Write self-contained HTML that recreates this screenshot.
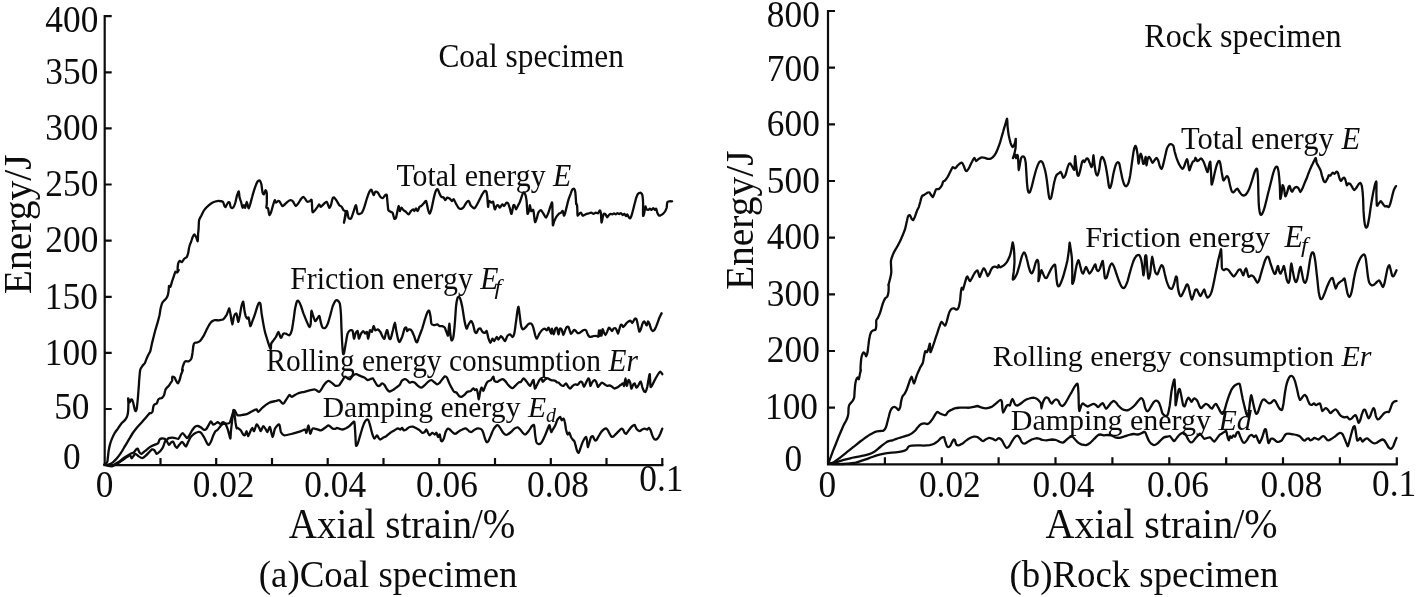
<!DOCTYPE html>
<html><head><meta charset="utf-8"><title>Energy curves</title>
<style>
html,body{margin:0;padding:0;background:#fff;}
body{width:1416px;height:597px;overflow:hidden;font-family:"Liberation Serif",serif;}
svg{display:block;position:absolute;left:0;top:0;will-change:transform;filter:grayscale(1);}
text{font-family:"Liberation Serif",serif;fill:#0c0c0c;}
.axis{stroke:#0c0c0c;stroke-width:2.2;fill:none;stroke-linecap:butt;}
.cv{stroke:#0c0c0c;stroke-width:2.3;fill:none;stroke-linejoin:round;stroke-linecap:round;}
</style></head><body>
<svg width="1416" height="597" viewBox="0 0 1416 597">
<rect width="1416" height="597" fill="#fff"/>

<path class="axis" d="M104.7,15.1 V465.1 H663.4"/>
<path class="axis" d="M104.7,409.0 h7.0 M104.7,352.9 h7.0 M104.7,296.8 h7.0 M104.7,240.7 h7.0 M104.7,184.5 h7.0 M104.7,128.4 h7.0 M104.7,72.3 h7.0 M104.7,16.2 h7.0 M160.5,465.1 v-7.0 M216.2,465.1 v-7.0 M272.0,465.1 v-7.0 M327.7,465.1 v-7.0 M383.5,465.1 v-7.0 M439.3,465.1 v-7.0 M495.0,465.1 v-7.0 M550.8,465.1 v-7.0 M606.5,465.1 v-7.0 M662.3,465.1 v-7.0"/>
<path class="axis" d="M828.0,9.9 V464.3 H1397.9"/>
<path class="axis" d="M828.0,407.6 h7.0 M828.0,351.0 h7.0 M828.0,294.3 h7.0 M828.0,237.7 h7.0 M828.0,181.0 h7.0 M828.0,124.3 h7.0 M828.0,67.7 h7.0 M828.0,11.0 h7.0 M884.9,464.3 v-7.0 M941.8,464.3 v-7.0 M998.6,464.3 v-7.0 M1055.5,464.3 v-7.0 M1112.4,464.3 v-7.0 M1169.3,464.3 v-7.0 M1226.2,464.3 v-7.0 M1283.0,464.3 v-7.0 M1339.9,464.3 v-7.0 M1396.8,464.3 v-7.0"/>
<text transform="translate(71.8,32.4) scale(0.955,1)" font-size="37" text-anchor="middle">400</text>
<text transform="translate(71.8,84.3) scale(0.955,1)" font-size="37" text-anchor="middle">350</text>
<text transform="translate(71.8,140.3) scale(0.955,1)" font-size="37" text-anchor="middle">300</text>
<text transform="translate(71.8,195.6) scale(0.955,1)" font-size="37" text-anchor="middle">250</text>
<text transform="translate(71.8,251.8) scale(0.955,1)" font-size="37" text-anchor="middle">200</text>
<text transform="translate(71.3,309.3) scale(0.955,1)" font-size="37" text-anchor="middle">150</text>
<text transform="translate(71.3,365.0) scale(0.955,1)" font-size="37" text-anchor="middle">100</text>
<text transform="translate(71.8,419.2) scale(0.955,1)" font-size="37" text-anchor="middle">50</text>
<text transform="translate(71.8,469.4) scale(0.955,1)" font-size="37" text-anchor="middle">0</text>
<text transform="translate(793.3,26.8) scale(0.955,1)" font-size="37" text-anchor="middle">800</text>
<text transform="translate(793.3,81.1) scale(0.955,1)" font-size="37" text-anchor="middle">700</text>
<text transform="translate(793.3,136.3) scale(0.955,1)" font-size="37" text-anchor="middle">600</text>
<text transform="translate(793.3,192.6) scale(0.955,1)" font-size="37" text-anchor="middle">500</text>
<text transform="translate(793.3,248.7) scale(0.955,1)" font-size="37" text-anchor="middle">400</text>
<text transform="translate(793.3,305.5) scale(0.955,1)" font-size="37" text-anchor="middle">300</text>
<text transform="translate(793.3,362.4) scale(0.955,1)" font-size="37" text-anchor="middle">200</text>
<text transform="translate(791.5,418.7) scale(0.955,1)" font-size="37" text-anchor="middle">100</text>
<text transform="translate(793.3,470.6) scale(0.955,1)" font-size="37" text-anchor="middle">0</text>
<text transform="translate(104.6,497.0) scale(0.955,1)" font-size="37" text-anchor="middle">0</text>
<text transform="translate(223.6,496.8) scale(0.955,1)" font-size="37" text-anchor="middle">0.02</text>
<text transform="translate(335.2,496.8) scale(0.955,1)" font-size="37" text-anchor="middle">0.04</text>
<text transform="translate(447.0,496.6) scale(0.955,1)" font-size="37" text-anchor="middle">0.06</text>
<text transform="translate(558.0,496.6) scale(0.955,1)" font-size="37" text-anchor="middle">0.08</text>
<text transform="translate(661.3,490.8) scale(0.955,1)" font-size="37" text-anchor="middle">0.1</text>
<text transform="translate(827.4,496.8) scale(0.955,1)" font-size="37" text-anchor="middle">0</text>
<text transform="translate(949.8,496.8) scale(0.955,1)" font-size="37" text-anchor="middle">0.02</text>
<text transform="translate(1063.4,496.8) scale(0.955,1)" font-size="37" text-anchor="middle">0.04</text>
<text transform="translate(1178.0,496.8) scale(0.955,1)" font-size="37" text-anchor="middle">0.06</text>
<text transform="translate(1291.5,496.8) scale(0.955,1)" font-size="37" text-anchor="middle">0.08</text>
<text transform="translate(1394.1,495.8) scale(0.955,1)" font-size="37" text-anchor="middle">0.1</text>
<text transform="translate(30.6,294.3) rotate(-90) scale(0.983,1)" font-size="40.3" text-anchor="start">Energy/J</text>
<text transform="translate(752.6,290.1) rotate(-90) scale(0.966,1)" font-size="40.9" text-anchor="start">Energy/J</text>
<text transform="translate(288.7,538.1) scale(0.946,1)" font-size="41.3" text-anchor="start">Axial strain/%</text>
<text transform="translate(1045.6,538.1) scale(0.968,1)" font-size="41.3" text-anchor="start">Axial strain/%</text>
<text transform="translate(258.8,586.5) scale(0.969,1)" font-size="38" text-anchor="start">(a)Coal specimen</text>
<text transform="translate(1009.5,586.5) scale(0.969,1)" font-size="38" text-anchor="start">(b)Rock specimen</text>
<text transform="translate(438.4,66.7) scale(0.951,1)" font-size="33" text-anchor="start">Coal specimen</text>
<text transform="translate(1144.2,46.5) scale(0.963,1)" font-size="33.4" text-anchor="start">Rock specimen</text>
<text transform="translate(396.4,185.6) scale(0.934,1)" font-size="32" text-anchor="start">Total energy <tspan font-style="italic">E</tspan></text>
<text transform="translate(290.2,288.8) scale(0.939,1)" font-size="31.8" text-anchor="start">Friction energy <tspan font-style="italic">E</tspan></text>
<text transform="translate(494.6,294.0) scale(1.2,1)" font-size="20" text-anchor="start"><tspan font-style="italic">f</tspan></text>
<text transform="translate(266.3,371.2) scale(0.944,1)" font-size="31.2" text-anchor="start">Rolling energy consumption <tspan font-style="italic">Er</tspan></text>
<text transform="translate(322.7,416.7) scale(0.985,1)" font-size="30.1" text-anchor="start">Damping energy <tspan font-style="italic">E</tspan></text>
<text transform="translate(546.0,422.0) scale(1.0,1)" font-size="20" text-anchor="start"><tspan font-style="italic">d</tspan></text>
<text transform="translate(1181.0,149.2) scale(1.004,1)" font-size="30.5" text-anchor="start">Total energy <tspan font-style="italic">E</tspan></text>
<text transform="translate(1085.2,246.9) scale(0.992,1)" font-size="30.5" text-anchor="start">Friction energy</text>
<text transform="translate(1284.4,246.9) scale(0.98,1)" font-size="31" text-anchor="start"><tspan font-style="italic">E</tspan></text>
<text transform="translate(1301.0,252.0) scale(1.2,1)" font-size="20" text-anchor="start"><tspan font-style="italic">f</tspan></text>
<text transform="translate(992.8,365.9) scale(1.0,1)" font-size="30" text-anchor="start">Rolling energy consumption <tspan font-style="italic">Er</tspan></text>
<text transform="translate(1010.8,429.6) scale(1.0,1)" font-size="30" text-anchor="start">Damping energy <tspan font-style="italic">Ed</tspan></text>
<path class="cv" d="M104.7,464.8C104.9,464.7 105.7,464.2 106.0,463.8C106.3,463.4 107.2,462.3 107.4,461.5C107.6,460.7 107.7,458.6 107.9,457.2C108.1,455.8 108.4,452.1 108.7,450.5C109.0,448.9 109.6,445.9 110.0,444.4C110.4,442.9 111.5,439.8 112.1,438.4C112.7,437.0 114.0,434.3 114.7,433.0C115.5,431.7 117.3,429.5 118.1,428.3C118.9,427.1 120.5,424.6 121.4,423.5C122.3,422.4 124.7,420.5 125.4,419.5C126.2,418.5 127.1,416.7 127.4,415.5C127.8,414.3 128.1,411.6 128.2,410.1C128.3,408.6 128.4,404.9 128.4,403.4C128.4,401.9 128.0,398.8 128.1,398.4C128.2,398.0 128.7,399.5 128.9,400.0C129.1,400.5 129.6,402.4 129.8,402.4C130.0,402.4 130.6,400.4 130.8,400.0C131.1,399.6 131.6,399.2 131.8,399.4C132.1,399.6 132.6,400.6 132.8,401.4C133.1,402.1 133.6,404.3 133.8,405.4C134.1,406.4 134.6,409.1 134.8,409.8C135.1,410.5 135.6,411.2 135.8,411.1C136.0,411.0 136.5,409.9 136.7,408.8C136.9,407.7 137.3,404.0 137.5,402.1C137.7,400.2 138.1,395.5 138.2,394.0C138.3,392.5 138.4,391.1 138.5,390.0C138.6,388.9 138.8,386.2 138.9,385.0C139.0,383.8 139.0,381.9 139.2,380.0C139.4,378.1 139.8,371.8 140.2,370.0C140.6,368.2 142.1,366.4 142.7,365.5C143.3,364.6 144.4,363.9 144.9,363.0C145.4,362.0 146.4,359.1 146.9,357.9C147.4,356.8 148.5,354.6 148.9,353.8C149.3,352.9 149.9,352.5 150.3,351.2C150.6,350.0 151.5,345.5 151.9,343.7C152.3,341.9 153.2,338.7 153.6,337.0C154.0,335.3 154.8,332.2 155.3,330.3C155.8,328.4 157.3,323.8 157.8,321.9C158.3,320.0 159.1,316.9 159.5,315.2C159.8,313.6 160.3,310.0 160.6,308.5C161.0,307.1 161.6,304.4 162.0,303.5C162.4,302.6 163.1,301.6 163.7,301.0C164.2,300.4 165.6,299.2 166.2,298.5C166.7,297.7 167.5,296.2 167.8,295.1C168.2,294.1 168.5,291.3 168.7,290.1C168.8,288.9 168.8,286.3 169.0,285.9C169.2,285.5 170.0,287.3 170.4,286.8C170.7,286.2 171.6,283.0 172.0,281.7C172.4,280.5 173.3,278.0 173.7,276.7C174.1,275.4 175.0,272.2 175.4,271.7C175.8,271.2 176.6,272.7 177.1,272.5C177.5,272.3 178.7,270.3 178.7,270.0C178.8,269.7 177.7,270.8 177.6,270.0C177.6,269.2 177.9,265.0 178.1,263.8C178.4,262.7 179.4,261.0 179.8,260.8C180.3,260.6 181.3,262.4 181.8,262.1C182.4,261.9 183.7,259.4 184.3,258.8C185.0,258.1 186.4,257.5 186.9,256.8C187.3,256.0 187.9,254.2 188.2,252.9C188.5,251.6 189.0,247.6 189.4,246.2C189.7,244.9 190.6,243.2 191.0,242.0C191.5,240.9 192.3,237.9 192.7,237.0C193.1,236.1 194.0,234.5 194.4,234.5C194.8,234.5 195.6,236.2 196.1,237.0C196.5,237.8 197.5,241.6 197.7,241.2C198.0,240.8 198.0,235.2 198.1,233.7C198.2,232.1 198.5,230.3 198.6,228.6C198.7,227.0 198.8,221.8 199.1,220.3C199.4,218.7 200.5,217.2 201.1,216.1C201.7,214.9 202.9,212.2 203.6,211.0C204.3,209.9 206.0,207.8 207.0,206.9C207.9,205.9 210.1,204.2 211.1,203.5C212.2,202.8 214.3,201.8 215.3,201.5C216.4,201.2 218.6,200.9 219.5,201.0C220.5,201.0 222.2,201.2 222.9,201.8C223.5,202.5 224.2,205.4 224.5,206.0C224.9,206.6 225.3,207.3 225.7,206.9C226.1,206.4 227.4,203.2 227.9,202.7C228.4,202.1 229.2,202.1 229.6,202.7C229.9,203.2 230.3,206.2 230.7,206.9C231.2,207.5 232.4,208.1 232.9,207.7C233.5,207.3 234.6,205.1 235.1,203.5C235.6,201.9 236.6,196.6 237.1,195.1C237.6,193.6 238.5,191.1 238.8,191.4C239.1,191.8 239.3,196.2 239.6,197.6C239.9,199.0 240.9,201.4 241.3,202.7C241.6,203.9 242.1,207.4 242.5,207.7C242.8,208.0 243.5,205.2 243.8,205.2C244.1,205.2 244.8,208.1 245.1,207.7C245.5,207.3 246.4,201.8 246.8,201.8C247.2,201.9 248.1,207.9 248.5,208.2C248.9,208.5 249.7,205.8 250.2,204.3C250.6,202.9 251.6,198.8 252.2,196.8C252.7,194.8 254.1,190.3 254.7,188.4C255.3,186.6 256.6,183.1 257.2,182.1C257.8,181.1 259.2,180.1 259.7,180.4C260.2,180.7 261.0,182.7 261.4,184.2C261.7,185.8 262.2,191.4 262.6,192.6C262.9,193.9 263.5,194.6 263.9,194.3C264.3,194.0 265.2,190.2 265.6,190.1C265.9,190.0 266.6,191.8 266.8,193.5C266.9,195.1 266.8,201.7 266.8,203.5C266.7,205.3 266.2,207.1 266.4,207.7C266.6,208.3 267.7,207.6 268.1,208.5C268.4,209.4 268.9,214.4 269.3,214.9C269.6,215.4 270.5,213.9 270.9,212.7C271.4,211.5 272.6,206.7 273.1,205.2C273.6,203.6 274.4,200.5 274.8,200.2C275.1,199.8 275.5,202.6 276.0,202.7C276.4,202.8 277.7,201.1 278.1,201.0C278.6,200.9 279.3,201.2 279.8,201.8C280.3,202.5 281.8,205.6 282.3,206.0C282.9,206.4 283.4,205.7 284.0,205.2C284.6,204.7 286.5,202.5 287.4,201.8C288.2,201.2 290.0,200.2 290.7,200.2C291.4,200.2 292.6,201.1 293.2,201.8C293.8,202.6 295.1,205.8 295.7,206.0C296.4,206.2 297.6,204.3 298.2,203.5C298.9,202.7 300.1,200.2 300.8,199.3C301.4,198.5 302.7,196.9 303.3,196.8C303.8,196.7 304.4,197.8 304.9,198.5C305.5,199.1 306.8,201.5 307.5,201.8C308.1,202.1 309.4,201.2 310.0,201.0C310.5,200.8 311.3,198.8 311.6,200.2C312.0,201.5 312.1,210.6 312.5,211.9C312.9,213.1 314.4,210.8 315.0,210.2C315.6,209.6 317.0,207.6 317.5,206.9C318.0,206.1 318.8,204.3 319.2,204.3C319.6,204.3 320.3,206.9 320.9,206.9C321.4,206.9 322.6,205.0 323.4,204.3C324.1,203.7 326.0,201.4 326.7,201.8C327.4,202.2 328.7,207.3 329.2,207.7C329.8,208.1 330.5,206.3 330.9,205.2C331.3,204.0 332.2,199.4 332.6,198.5C333.0,197.5 333.7,197.3 334.3,197.6C334.8,198.0 336.1,200.0 336.8,201.0C337.4,201.9 338.7,204.4 339.3,205.2C339.9,205.9 341.3,206.2 341.8,206.9C342.3,207.5 343.0,209.6 343.5,210.2C343.9,210.8 345.6,210.3 345.6,211.9C345.7,213.4 343.8,222.9 344.0,222.8C344.1,222.7 346.3,211.7 346.8,211.0C347.4,210.4 348.0,216.8 348.5,217.7C349.0,218.7 350.4,219.3 351.0,218.6C351.6,217.8 352.9,213.6 353.5,211.9C354.1,210.2 355.5,205.0 356.0,205.2C356.6,205.4 357.0,212.6 357.7,213.6C358.4,214.5 361.1,213.6 361.9,212.7C362.7,211.9 363.8,208.6 364.4,206.9C365.0,205.1 366.3,200.4 366.9,198.5C367.5,196.6 368.9,192.9 369.4,191.8C370.0,190.7 370.9,189.3 371.4,189.8C372.0,190.2 373.1,194.9 373.6,195.1C374.1,195.4 374.8,192.1 375.3,191.8C375.8,191.5 377.2,192.0 377.8,192.6C378.4,193.2 379.7,196.1 380.3,196.8C380.9,197.5 382.2,198.4 382.8,198.1C383.5,197.9 384.9,195.5 385.3,195.1C385.8,194.7 386.5,194.1 386.8,195.1C387.0,196.2 387.4,201.6 387.6,203.5C387.8,205.4 388.0,209.2 388.4,210.2C388.8,211.2 390.4,211.6 390.9,211.9C391.5,212.2 392.2,211.9 392.6,212.7C393.0,213.6 393.9,217.9 394.3,218.6C394.7,219.2 395.5,218.8 396.0,217.7C396.4,216.7 397.3,211.7 397.6,210.2C398.0,208.7 398.5,205.9 398.8,206.0C399.1,206.1 399.5,210.8 399.8,211.0C400.2,211.2 401.0,207.8 401.5,207.7C402.0,207.6 402.9,209.7 403.5,210.2C404.1,210.7 405.4,211.4 406.0,211.9C406.6,212.4 407.9,214.5 408.5,214.4C409.2,214.3 410.5,211.7 411.0,211.0C411.6,210.4 412.8,209.4 413.2,209.4C413.6,209.4 414.0,211.1 414.4,211.0C414.7,210.9 415.6,208.5 416.1,208.5C416.5,208.5 417.3,211.2 417.7,211.0C418.2,210.8 419.0,207.5 419.4,206.9C419.8,206.2 420.6,206.4 421.1,206.0C421.6,205.6 423.0,204.1 423.6,203.5C424.2,202.9 425.6,200.4 426.1,201.0C426.6,201.6 427.4,207.0 427.8,208.5C428.2,210.1 429.0,213.3 429.5,213.6C429.9,213.8 430.7,211.6 431.1,210.2C431.6,208.8 432.4,204.5 432.8,202.7C433.2,200.8 434.1,196.7 434.5,195.1C434.9,193.6 435.7,190.8 436.2,190.1C436.6,189.4 437.4,188.8 437.8,189.3C438.3,189.7 439.1,192.5 439.5,193.5C439.9,194.4 440.7,196.3 441.2,196.8C441.7,197.3 443.2,197.2 443.7,197.6C444.2,198.1 445.0,200.2 445.4,200.2C445.8,200.2 446.5,197.8 447.1,197.6C447.6,197.4 448.9,198.1 449.6,198.5C450.2,198.9 451.6,200.9 452.1,201.0C452.6,201.1 453.2,198.9 453.8,199.3C454.3,199.7 455.6,203.2 456.3,204.3C456.9,205.4 458.1,207.6 458.8,208.2C459.4,208.8 460.7,209.0 461.3,208.9C461.9,208.7 463.2,207.6 463.8,206.9C464.4,206.1 465.7,203.4 466.3,202.7C466.9,201.9 468.3,200.7 468.8,201.0C469.4,201.3 470.0,204.3 470.5,205.2C471.0,206.0 472.5,207.3 473.0,207.7C473.5,208.1 474.2,208.6 474.7,208.2C475.2,207.8 476.6,205.4 477.2,204.3C477.8,203.2 479.1,200.6 479.7,199.3C480.3,198.1 481.6,195.3 482.2,194.3C482.9,193.2 484.2,191.3 484.7,190.9C485.3,190.6 486.1,191.0 486.4,191.8C486.7,192.5 487.0,194.9 487.3,196.8C487.5,198.7 487.9,206.3 488.1,206.9C488.3,207.4 488.5,201.5 488.9,201.0C489.3,200.5 490.9,202.6 491.4,202.7C492.0,202.8 492.7,201.0 493.1,201.8C493.5,202.7 494.4,208.8 494.8,209.4C495.2,209.9 496.0,206.5 496.5,206.0C496.9,205.5 497.7,205.0 498.1,205.2C498.6,205.4 499.3,207.8 499.8,207.7C500.3,207.6 501.8,204.5 502.3,204.3C502.9,204.1 503.5,206.2 504.0,206.0C504.5,205.8 506.0,203.0 506.5,202.7C507.0,202.3 507.8,202.8 508.2,203.5C508.6,204.2 509.4,207.2 509.9,208.5C510.3,209.8 511.1,214.2 511.5,213.9C512.0,213.6 512.9,207.1 513.2,206.0C513.6,204.9 514.0,204.8 514.4,205.2C514.7,205.6 515.6,209.4 516.1,209.4C516.5,209.4 517.8,206.1 518.2,205.2C518.7,204.2 519.5,202.9 519.9,201.8C520.3,200.8 521.2,198.0 521.6,196.8C522.0,195.6 522.8,193.0 523.3,192.6C523.7,192.2 524.5,192.4 524.9,193.5C525.4,194.5 526.3,198.5 526.6,201.0C526.9,203.5 527.1,212.4 527.5,213.6C527.8,214.7 528.8,211.2 529.1,210.2C529.4,209.2 529.7,205.1 530.0,205.2C530.2,205.3 530.7,210.4 531.1,211.0C531.6,211.7 532.8,208.8 533.3,210.2C533.8,211.6 534.6,220.9 535.0,221.9C535.4,223.0 536.2,219.7 536.7,218.6C537.1,217.4 537.8,213.8 538.3,212.7C538.9,211.7 540.2,210.1 540.9,210.2C541.5,210.3 542.7,212.6 543.4,213.6C544.0,214.5 545.3,217.8 545.9,217.7C546.5,217.6 547.8,214.2 548.4,212.7C549.0,211.2 550.1,207.3 550.6,206.0C551.1,204.8 552.0,201.3 552.2,202.7C552.5,204.0 552.5,214.1 552.6,216.9C552.7,219.7 552.7,224.7 552.9,225.3C553.1,225.8 553.8,222.3 554.2,221.3C554.7,220.2 555.9,217.6 556.5,216.7C557.1,215.8 558.2,214.3 558.8,213.8C559.4,213.4 560.6,213.1 561.1,212.7C561.6,212.4 562.4,210.6 562.8,211.0C563.1,211.4 563.6,215.3 563.9,215.6C564.2,215.8 564.7,214.4 565.1,213.3C565.4,212.1 566.3,208.2 566.8,206.4C567.2,204.7 568.0,201.2 568.5,199.6C569.0,198.0 570.3,194.6 570.8,193.3C571.2,192.1 572.0,189.9 572.5,189.4C572.9,188.8 573.8,188.4 574.2,188.8C574.5,189.1 575.1,190.9 575.3,192.2C575.5,193.6 575.8,198.1 575.9,199.6C576.0,201.1 576.1,203.5 576.2,204.2C576.4,204.8 576.9,203.9 577.0,204.7C577.2,205.6 577.3,209.6 577.4,211.0C577.4,212.4 577.3,215.2 577.6,215.6C577.8,215.9 578.9,214.2 579.3,213.8C579.7,213.5 580.6,212.5 581.0,212.7C581.4,212.9 582.3,215.3 582.7,215.6C583.1,215.8 583.9,215.2 584.4,215.0C584.9,214.8 586.1,214.1 586.7,213.8C587.3,213.6 588.4,213.4 589.0,213.3C589.5,213.1 590.7,212.6 591.3,212.7C591.8,212.8 593.0,213.8 593.5,213.8C594.1,213.8 595.2,212.8 595.8,212.7C596.4,212.6 597.6,213.6 598.1,213.3C598.6,213.0 599.4,210.4 599.8,210.4C600.2,210.4 600.7,211.8 600.9,213.3C601.1,214.8 601.3,221.8 601.5,222.4C601.7,223.0 602.4,218.9 602.6,217.8C602.9,216.8 603.4,214.3 603.8,213.8C604.1,213.4 605.1,214.0 605.5,214.4C605.9,214.8 606.8,217.2 607.2,217.3C607.6,217.3 608.5,215.4 608.9,215.0C609.3,214.6 610.2,213.9 610.6,213.8C611.0,213.8 611.9,214.5 612.3,214.4C612.8,214.3 613.6,213.3 614.0,213.3C614.5,213.3 615.3,214.4 615.7,214.4C616.2,214.4 617.0,213.1 617.4,213.1C617.9,213.0 618.7,214.2 619.2,214.2C619.6,214.2 620.4,213.0 620.9,213.1C621.3,213.2 622.1,214.9 622.6,215.0C623.0,215.1 623.9,213.7 624.3,213.8C624.7,214.0 625.6,216.1 626.0,216.1C626.3,216.2 626.8,214.3 627.1,214.4C627.5,214.6 628.5,216.8 628.8,217.3C629.2,217.8 629.7,218.5 630.0,218.4C630.3,218.3 630.8,217.6 631.1,216.7C631.5,215.8 632.4,212.6 632.8,211.0C633.3,209.4 634.1,205.8 634.5,204.2C635.0,202.5 635.8,199.2 636.2,197.9C636.7,196.6 637.5,194.6 637.9,193.9C638.4,193.3 639.2,192.9 639.7,192.8C640.1,192.7 641.0,193.0 641.4,193.3C641.7,193.7 642.3,194.4 642.5,195.6C642.7,196.8 643.0,200.5 643.1,203.0C643.1,205.5 642.9,214.3 643.1,215.6C643.2,216.8 643.9,214.4 644.2,213.3C644.5,212.1 645.1,206.9 645.4,206.4C645.6,205.9 646.1,208.9 646.5,209.3C646.8,209.7 647.8,209.9 648.2,209.9C648.6,209.8 649.5,208.7 649.9,208.7C650.3,208.7 651.2,209.9 651.6,209.9C652.0,209.8 652.9,208.2 653.3,208.2C653.8,208.2 654.7,209.8 655.0,209.9C655.4,209.9 655.9,208.4 656.2,208.7C656.5,209.1 657.0,211.9 657.3,212.7C657.7,213.6 658.6,215.2 659.0,215.6C659.4,215.9 660.2,215.5 660.7,215.3C661.2,215.1 662.4,214.4 663.0,213.8C663.6,213.3 664.8,211.8 665.3,211.0C665.7,210.2 666.4,208.4 666.7,207.6C666.9,206.7 666.9,204.9 667.0,204.2C667.1,203.5 667.3,202.2 667.6,201.9C667.8,201.5 668.7,201.4 669.3,201.3C669.8,201.2 671.8,201.3 672.1,201.3"/>
<path class="cv" d="M104.7,464.8C105.0,464.8 106.8,465.0 107.5,464.9C108.2,464.8 109.3,464.3 110.0,464.0C110.7,463.7 111.9,463.2 112.7,462.5C113.5,461.8 115.7,459.7 116.7,458.5C117.7,457.3 119.8,454.6 120.8,453.1C121.8,451.6 123.8,448.1 124.8,446.4C125.8,444.7 127.8,441.4 128.8,439.7C129.8,438.0 131.8,434.5 132.8,433.0C133.8,431.5 136.0,428.7 136.8,427.7C137.6,426.7 138.6,425.8 139.5,424.8C140.4,423.8 143.1,420.8 144.2,419.5C145.3,418.2 147.5,415.6 148.2,414.8C148.9,414.0 149.5,413.3 149.9,413.1C150.3,412.9 150.9,413.3 151.2,413.1C151.5,412.9 152.3,412.1 152.6,411.4C152.8,410.7 153.0,408.2 153.2,407.4C153.4,406.6 153.7,405.5 153.9,405.1C154.2,404.7 154.9,404.3 155.2,404.1C155.5,403.9 156.3,404.0 156.6,403.7C156.9,403.4 157.4,401.9 157.6,401.4C157.8,400.9 158.0,399.8 158.3,399.4C158.6,399.0 159.5,398.6 159.9,398.4C160.3,398.2 161.4,398.4 161.9,398.0C162.4,397.6 163.7,396.0 164.1,395.1C164.5,394.2 164.9,391.4 165.2,390.6C165.4,389.7 165.9,388.9 166.4,388.3C166.8,387.7 168.1,386.7 168.6,386.0C169.2,385.4 170.2,383.7 170.6,383.0C171.0,382.4 171.9,381.5 172.1,380.8C172.3,380.0 172.1,377.1 172.4,376.7C172.7,376.3 174.1,377.0 174.5,377.5C175.0,378.1 175.8,380.2 176.2,380.9C176.6,381.6 177.5,383.5 177.9,383.4C178.3,383.3 179.1,381.2 179.6,380.1C180.0,378.9 180.8,375.4 181.2,374.2C181.7,372.9 182.8,370.5 182.9,370.0C183.0,369.5 182.0,370.8 182.1,370.0C182.2,369.2 183.3,364.9 183.8,363.8C184.2,362.7 184.8,361.6 185.4,361.3C186.1,361.0 188.0,361.6 188.8,361.3C189.5,361.0 190.8,359.8 191.3,358.8C191.8,357.7 192.2,354.6 192.5,352.9C192.7,351.2 193.2,346.6 193.5,345.4C193.7,344.1 194.2,343.2 194.6,342.9C195.1,342.5 196.4,342.8 197.2,342.5C197.9,342.2 199.7,341.3 200.5,340.4C201.3,339.5 203.0,336.8 203.9,335.3C204.7,333.9 206.4,330.2 207.2,328.6C208.0,327.1 209.7,323.8 210.6,322.8C211.4,321.7 212.9,320.6 213.9,320.3C214.9,319.9 217.8,320.4 218.9,320.3C220.1,320.1 222.2,320.0 223.1,319.4C224.1,318.8 225.8,316.3 226.5,315.2C227.1,314.2 227.8,311.9 228.1,311.0C228.5,310.2 229.0,308.0 229.3,308.5C229.6,309.0 230.3,313.2 230.7,315.2C231.0,317.2 231.9,324.3 232.3,324.4C232.7,324.5 233.5,317.4 234.0,316.1C234.5,314.7 236.0,312.8 236.5,313.6C237.0,314.3 237.8,321.7 238.2,321.9C238.6,322.1 239.4,317.2 239.9,315.2C240.3,313.2 241.1,307.7 241.5,306.0C242.0,304.3 242.9,301.3 243.2,301.8C243.6,302.3 244.1,308.4 244.4,310.2C244.7,312.0 245.4,315.0 245.7,316.1C246.1,317.1 247.0,318.4 247.4,318.6C247.8,318.8 248.4,316.8 248.7,317.7C249.1,318.7 249.8,325.7 250.3,326.1C250.7,326.5 251.8,322.6 252.4,321.1C253.0,319.6 254.3,316.3 254.9,314.4C255.6,312.5 256.9,307.5 257.5,306.0C258.0,304.5 258.8,302.9 259.1,302.7C259.5,302.5 260.2,303.0 260.5,304.3C260.8,305.7 261.3,311.1 261.6,313.6C262.0,316.0 262.9,321.3 263.3,323.6C263.7,325.9 264.5,329.9 265.0,332.0C265.5,334.1 266.9,338.4 267.5,340.4C268.1,342.3 269.6,346.8 270.0,347.9C270.4,348.9 270.7,349.3 270.9,348.7C271.0,348.2 270.9,344.7 271.2,343.7C271.5,342.7 272.8,341.2 273.4,340.4C274.0,339.5 275.3,338.0 275.9,337.0C276.5,336.0 277.9,332.1 278.4,332.0C278.9,331.9 279.7,335.4 280.1,336.2C280.4,336.9 280.8,338.2 281.2,337.8C281.7,337.5 282.8,334.2 283.4,333.7C284.0,333.1 285.2,333.4 285.9,333.7C286.7,333.9 288.5,335.7 289.3,335.3C290.0,334.9 291.3,332.2 291.8,330.3C292.3,328.4 293.0,323.0 293.5,320.3C293.9,317.5 294.7,310.8 295.1,308.5C295.6,306.2 296.4,302.8 296.8,301.8C297.2,300.9 298.0,300.5 298.5,301.0C299.0,301.5 300.4,304.4 301.0,306.0C301.6,307.6 302.8,311.6 303.5,313.6C304.3,315.5 306.1,320.3 306.9,321.9C307.6,323.6 308.9,326.7 309.4,327.0C309.9,327.2 310.5,325.6 310.7,323.6C311.0,321.6 311.1,312.2 311.4,311.0C311.6,309.9 312.2,313.1 312.7,314.4C313.2,315.6 314.6,320.7 315.2,321.1C315.9,321.5 317.2,318.4 317.8,317.7C318.3,317.1 319.0,315.3 319.4,316.1C319.8,316.8 320.7,322.1 321.1,323.6C321.5,325.1 322.3,327.3 322.8,327.8C323.3,328.3 324.7,328.3 325.3,327.8C325.9,327.3 327.2,325.2 327.8,323.6C328.4,322.0 329.7,317.4 330.3,315.2C330.9,313.0 332.2,307.8 332.8,306.0C333.5,304.2 334.7,301.7 335.3,301.0C335.9,300.3 337.0,300.1 337.6,300.4C338.1,300.7 339.3,301.8 339.8,303.5C340.2,305.1 340.7,310.6 340.9,313.5C341.1,316.4 341.3,323.3 341.4,326.9C341.6,330.5 341.9,338.6 342.1,342.0C342.3,345.3 342.8,352.4 343.1,353.7C343.4,355.0 343.9,353.5 344.3,352.0C344.6,350.6 345.5,344.3 346.0,342.0C346.4,339.7 347.1,335.1 347.6,333.6C348.2,332.1 349.5,330.6 350.2,330.3C350.8,329.9 352.2,330.0 352.7,331.1C353.1,332.1 353.6,338.3 354.0,338.6C354.4,338.9 355.1,334.5 355.5,333.6C356.0,332.7 357.3,330.5 357.7,331.1C358.1,331.7 358.4,338.3 358.9,338.6C359.3,338.9 360.5,334.5 361.0,333.6C361.6,332.7 362.7,331.1 363.2,331.1C363.7,331.1 364.8,333.5 365.2,333.6C365.7,333.7 366.5,331.3 366.9,331.9C367.3,332.6 367.9,338.8 368.2,338.6C368.6,338.4 369.5,331.1 369.9,330.3C370.4,329.4 371.5,332.4 371.9,331.9C372.4,331.4 373.2,326.3 373.6,326.1C374.0,325.9 374.8,329.8 375.3,330.3C375.8,330.7 377.2,329.2 377.8,329.4C378.4,329.6 379.7,331.0 380.3,331.9C380.9,332.9 382.3,336.1 382.8,337.0C383.3,337.8 384.1,339.3 384.5,338.6C384.9,338.0 385.8,333.0 386.2,331.9C386.5,330.9 387.0,329.5 387.3,330.3C387.7,331.0 388.6,336.7 389.0,337.8C389.4,338.8 390.2,339.6 390.7,338.6C391.2,337.7 392.3,332.2 392.9,330.3C393.4,328.3 394.5,322.7 394.9,322.7C395.3,322.7 395.8,328.3 396.2,330.3C396.6,332.2 397.5,337.2 397.9,338.6C398.3,340.1 399.0,342.2 399.6,342.0C400.1,341.8 401.4,338.6 402.1,337.0C402.7,335.3 404.1,329.7 404.6,328.6C405.1,327.4 406.0,327.4 406.3,327.7C406.6,328.1 406.8,330.9 407.1,331.1C407.4,331.3 408.3,329.5 408.8,329.4C409.3,329.3 410.7,329.5 411.3,330.3C411.9,331.0 413.2,333.9 413.8,335.3C414.4,336.6 415.4,340.3 415.8,341.1C416.2,342.0 416.7,342.7 417.2,342.0C417.6,341.2 419.0,337.0 419.7,335.3C420.3,333.6 421.5,330.5 422.2,328.6C422.8,326.7 424.1,322.2 424.7,320.2C425.3,318.2 426.6,313.9 427.2,312.7C427.8,311.5 428.8,310.1 429.2,310.7C429.6,311.2 430.3,315.2 430.6,316.9C430.8,318.5 431.0,322.5 431.4,323.6C431.8,324.6 433.2,325.1 433.9,325.2C434.6,325.3 436.5,324.3 437.3,324.4C438.0,324.5 439.1,325.9 439.8,326.1C440.4,326.3 441.6,325.9 442.3,326.1C442.9,326.3 444.2,326.8 444.8,327.7C445.4,328.7 446.5,332.7 447.0,333.6C447.4,334.5 447.8,336.5 448.1,335.3C448.4,334.0 449.0,323.8 449.3,323.6C449.6,323.3 450.0,331.5 450.3,333.6C450.6,335.7 451.1,339.8 451.5,340.3C451.8,340.8 452.7,339.9 453.2,337.8C453.6,335.7 454.5,327.4 454.8,323.6C455.2,319.7 455.7,309.9 456.0,306.8C456.3,303.7 457.0,299.7 457.4,298.4C457.7,297.2 458.6,296.5 459.0,296.8C459.4,297.0 460.3,298.7 460.7,300.1C461.1,301.5 461.9,305.1 462.4,307.6C462.8,310.2 463.9,317.6 464.4,320.2C464.9,322.8 466.1,327.9 466.6,328.6C467.0,329.2 467.7,326.2 468.2,325.2C468.8,324.3 470.2,321.2 470.8,321.0C471.3,320.8 472.2,322.2 472.8,323.6C473.3,324.9 474.5,330.8 474.9,331.9C475.4,333.1 476.2,333.1 476.6,332.8C477.0,332.4 477.8,329.9 478.3,329.4C478.8,328.9 479.9,328.3 480.5,328.6C481.0,328.9 481.9,331.4 482.5,331.9C483.0,332.4 484.5,332.9 485.0,332.8C485.5,332.7 486.2,330.5 486.7,331.1C487.1,331.7 487.9,336.3 488.3,337.8C488.8,339.3 490.0,342.7 490.5,342.8C491.0,342.9 492.1,338.8 492.5,338.6C493.0,338.4 493.7,341.3 494.2,341.1C494.7,340.9 496.2,337.2 496.7,337.0C497.2,336.7 497.9,339.6 498.4,339.5C498.9,339.4 500.4,336.3 500.9,336.1C501.4,335.9 502.1,337.2 502.6,337.8C503.1,338.4 504.5,341.3 505.1,341.1C505.7,340.9 506.6,337.0 507.3,336.1C507.9,335.3 509.4,334.3 510.1,334.4C510.8,334.5 512.1,337.1 512.6,337.0C513.2,336.8 513.9,335.5 514.3,333.6C514.7,331.7 515.6,324.6 516.0,321.9C516.4,319.2 517.0,313.7 517.3,311.8C517.6,309.9 518.2,306.4 518.5,306.8C518.8,307.2 519.4,312.9 519.7,315.2C520.0,317.5 520.6,323.4 521.0,325.2C521.4,327.0 522.4,329.2 523.0,329.4C523.6,329.6 525.3,327.6 526.0,326.9C526.7,326.2 527.9,324.3 528.5,323.9C529.2,323.5 530.5,323.2 531.1,323.6C531.6,323.9 532.5,325.4 533.1,326.9C533.6,328.4 534.8,333.8 535.2,335.3C535.7,336.7 536.4,338.8 536.9,338.6C537.4,338.4 538.8,334.6 539.4,333.6C540.1,332.6 541.3,330.9 541.9,330.3C542.6,329.6 543.8,328.6 544.5,328.6C545.1,328.6 546.4,330.4 547.0,330.3C547.5,330.1 548.1,327.3 548.6,327.7C549.2,328.2 550.7,333.5 551.2,333.6C551.6,333.7 551.7,328.5 552.0,328.6C552.3,328.7 553.2,334.4 553.7,334.4C554.1,334.4 554.9,329.4 555.3,328.6C555.8,327.8 556.7,327.4 557.1,328.2C557.5,328.9 558.1,334.3 558.5,334.4C558.8,334.5 559.5,329.4 559.9,328.7C560.3,328.1 561.2,328.5 561.6,329.3C562.1,330.1 562.9,334.8 563.3,335.0C563.8,335.1 564.6,331.4 565.1,330.4C565.5,329.4 566.3,327.4 566.8,327.0C567.2,326.6 568.1,326.5 568.5,327.0C568.9,327.5 569.5,330.1 569.8,331.0C570.2,331.9 570.7,333.7 571.0,333.8C571.3,334.0 572.1,332.6 572.5,332.1C572.9,331.6 573.7,330.0 574.2,329.9C574.6,329.7 575.4,330.6 575.9,331.0C576.3,331.4 577.1,332.8 577.6,333.1C578.1,333.3 579.3,333.0 579.9,332.7C580.4,332.5 581.6,331.4 582.1,331.0C582.7,330.6 583.9,329.9 584.4,329.9C584.9,329.8 585.8,330.0 586.1,330.4C586.5,330.9 587.0,332.6 587.3,333.3C587.6,333.9 588.0,335.1 588.4,335.6C588.8,336.0 589.6,336.8 590.1,336.9C590.6,337.0 591.8,336.6 592.4,336.5C593.0,336.3 594.1,335.8 594.7,335.8C595.2,335.7 596.5,336.0 596.9,336.1C597.4,336.2 598.1,337.2 598.3,336.5C598.6,335.8 598.8,330.5 599.0,330.4C599.2,330.4 599.6,336.1 599.8,336.1C600.0,336.1 600.4,330.5 600.6,330.4C600.8,330.4 601.2,335.7 601.5,335.6C601.8,335.4 602.4,329.7 602.6,329.3C602.9,328.9 603.4,331.4 603.8,332.1C604.1,332.9 605.1,335.1 605.5,335.0C605.9,334.9 606.8,332.5 607.2,331.6C607.6,330.6 608.5,327.9 608.9,327.6C609.3,327.3 610.2,328.9 610.6,329.3C611.0,329.7 611.6,331.1 612.0,331.0C612.3,330.9 613.1,329.1 613.5,328.7C613.9,328.4 614.8,328.0 615.2,328.2C615.6,328.3 616.2,329.2 616.5,329.9C616.9,330.6 617.7,333.8 618.0,333.8C618.3,333.8 618.8,331.0 619.2,329.9C619.5,328.7 620.5,325.3 620.9,324.7C621.2,324.2 621.9,325.0 622.2,325.3C622.5,325.6 622.8,327.0 623.1,327.0C623.5,327.0 624.4,325.8 624.9,325.3C625.3,324.8 626.1,323.5 626.6,323.0C627.1,322.5 628.3,321.6 628.8,321.3C629.3,321.0 630.1,320.5 630.5,320.8C631.0,321.0 631.9,323.0 632.3,323.0C632.6,323.0 633.3,321.3 633.6,320.8C634.0,320.2 634.7,318.6 635.1,318.5C635.5,318.3 636.2,318.8 636.6,319.6C636.9,320.5 637.6,323.8 637.9,325.3C638.3,326.8 639.0,331.1 639.3,331.6C639.7,332.1 640.4,330.3 640.8,329.3C641.2,328.3 642.1,324.6 642.5,323.6C642.9,322.6 643.8,321.2 644.2,321.3C644.6,321.4 645.6,323.7 645.9,324.2C646.2,324.7 646.5,325.7 646.8,325.3C647.1,325.0 647.9,321.5 648.2,321.3C648.5,321.2 649.2,323.2 649.6,324.2C649.9,325.1 650.6,327.9 651.0,328.7C651.4,329.6 652.3,330.9 652.8,331.0C653.2,331.1 654.0,330.4 654.5,329.9C654.9,329.3 655.7,327.4 656.2,326.4C656.6,325.4 657.5,323.0 657.9,321.9C658.3,320.8 659.1,318.4 659.6,317.3C660.1,316.3 661.4,313.8 661.6,313.3"/>
<path class="cv" d="M104.5,464.5C105.5,464.7 110.2,466.6 112.1,466.3C114.0,466.0 117.7,463.4 119.6,462.2C121.5,461.0 125.8,457.8 127.1,456.9C128.5,456.1 129.6,455.2 130.2,455.4C130.7,455.6 131.2,458.4 131.7,458.4C132.1,458.4 133.5,456.0 133.9,455.4C134.4,454.8 134.9,453.8 135.4,453.9C136.0,454.0 137.6,455.6 138.5,456.2C139.3,456.7 141.4,458.1 142.2,458.1C143.1,458.1 144.4,456.9 145.2,456.2C146.1,455.5 148.2,453.2 149.0,452.4C149.9,451.5 151.4,449.7 152.0,449.4C152.7,449.1 153.7,449.6 154.3,450.1C154.9,450.7 156.0,453.6 156.6,453.9C157.1,454.2 158.3,452.9 158.8,452.4C159.4,451.9 160.5,450.9 161.1,450.1C161.7,449.4 162.8,447.5 163.3,446.4C163.9,445.2 164.7,441.7 165.2,441.1C165.6,440.5 166.6,441.4 167.1,441.8C167.6,442.3 168.6,444.8 169.1,444.9C169.6,445.0 170.4,443.0 170.9,442.6C171.4,442.2 172.6,441.4 173.2,441.8C173.7,442.3 174.9,445.6 175.4,446.4C175.9,447.1 176.5,448.1 176.9,447.9C177.4,447.7 178.5,445.6 179.2,444.9C179.8,444.1 181.5,441.8 182.2,441.8C182.9,441.8 184.0,444.3 184.5,444.9C184.9,445.4 185.5,446.7 186.0,446.4C186.4,446.0 187.7,443.0 188.2,441.8C188.8,440.7 189.8,438.3 190.5,437.3C191.2,436.4 192.6,435.0 193.5,434.3C194.5,433.6 197.1,432.2 198.0,432.0C199.0,431.8 200.3,432.1 201.1,432.8C201.8,433.5 203.3,436.0 204.1,437.3C204.8,438.6 206.5,442.4 207.1,443.3C207.7,444.3 208.4,445.0 208.9,444.9C209.4,444.7 210.3,443.0 210.9,441.8C211.4,440.7 212.6,437.1 213.1,435.8C213.7,434.5 214.8,432.0 215.4,431.3C216.0,430.5 217.1,430.4 217.6,429.8C218.2,429.2 219.6,427.2 220.2,426.5C220.8,425.8 221.8,424.6 222.4,424.2C223.1,423.9 224.4,423.9 225.3,423.6C226.2,423.4 228.8,424.2 229.8,422.5C230.9,420.8 233.1,411.1 234.0,410.2C234.9,409.3 236.3,414.6 237.4,415.2C238.4,415.8 241.1,415.1 242.4,414.9C243.6,414.7 245.9,414.5 247.4,413.9C248.9,413.3 253.0,410.8 254.1,410.2C255.3,409.6 256.1,409.2 256.6,409.4C257.1,409.6 257.6,412.1 258.3,411.9C259.0,411.7 261.1,408.8 262.5,407.7C263.8,406.5 267.5,403.5 269.2,402.7C270.9,401.8 274.6,401.3 275.9,401.0C277.1,400.7 278.4,399.8 279.2,400.2C280.1,400.5 282.0,403.2 282.6,403.5C283.2,403.8 283.4,403.7 284.3,402.7C285.1,401.6 288.3,395.9 289.3,395.1C290.2,394.4 290.7,397.0 291.8,396.8C292.8,396.6 296.1,394.1 297.7,393.5C299.2,392.8 302.3,392.3 304.4,391.8C306.4,391.3 312.5,389.3 314.4,389.3C316.3,389.3 318.2,392.4 319.4,391.8C320.7,391.1 323.3,385.6 324.5,384.2C325.6,382.9 327.4,380.8 328.6,380.9C329.9,381.0 333.6,384.4 334.5,385.1C335.4,385.7 335.3,385.9 335.9,385.9C336.5,385.9 338.4,385.8 339.3,385.1C340.1,384.4 341.9,381.1 342.6,380.1C343.3,379.0 344.5,376.9 345.1,376.7C345.8,376.5 347.0,378.1 347.6,378.4C348.3,378.7 349.5,379.6 350.2,379.2C350.8,378.9 351.9,376.5 352.7,375.9C353.4,375.3 355.1,374.2 356.0,374.2C357.0,374.2 359.2,375.5 360.2,375.9C361.2,376.3 363.4,377.0 364.4,377.6C365.3,378.1 367.0,379.9 367.7,380.1C368.5,380.3 369.6,379.4 370.3,379.2C370.9,379.0 372.2,378.2 372.8,378.4C373.3,378.6 373.9,380.1 374.4,380.9C375.0,381.8 376.3,384.5 377.0,385.1C377.6,385.7 378.8,386.1 379.5,385.9C380.1,385.7 381.3,383.5 382.0,383.4C382.6,383.3 383.9,384.4 384.5,385.1C385.1,385.8 386.4,388.5 387.0,389.3C387.6,390.1 388.8,391.4 389.5,391.5C390.2,391.6 392.0,390.6 392.9,390.1C393.7,389.6 395.4,388.2 396.2,387.6C397.1,387.0 398.9,385.9 399.6,385.1C400.3,384.3 401.1,381.6 401.7,380.9C402.4,380.2 403.9,379.3 404.6,379.2C405.3,379.1 406.5,379.7 407.1,380.1C407.7,380.5 409.0,382.4 409.6,382.6C410.2,382.8 411.5,381.8 412.1,381.8C412.8,381.8 413.9,382.1 414.6,382.6C415.4,383.1 417.2,385.3 418.0,385.9C418.8,386.6 420.5,387.7 421.3,387.6C422.2,387.5 423.9,385.8 424.7,385.1C425.5,384.4 427.2,382.4 428.0,381.8C428.9,381.1 430.6,380.0 431.4,380.1C432.2,380.2 434.0,382.1 434.7,382.6C435.5,383.1 436.6,384.3 437.3,384.3C437.9,384.3 439.1,383.2 439.8,382.6C440.4,382.0 441.6,380.0 442.3,379.2C442.9,378.5 444.2,376.6 444.8,376.4C445.4,376.2 446.4,376.8 447.0,377.6C447.5,378.3 448.4,381.3 449.0,382.6C449.5,383.8 450.9,386.5 451.5,387.6C452.1,388.8 453.4,391.2 454.0,391.8C454.6,392.4 455.9,392.1 456.5,392.6C457.1,393.2 458.4,395.5 459.0,396.0C459.7,396.5 460.9,396.9 461.5,396.8C462.2,396.7 463.3,395.8 464.1,395.2C464.8,394.5 466.6,392.3 467.4,391.8C468.2,391.3 470.0,391.4 470.8,391.0C471.5,390.5 472.7,388.6 473.3,388.5C473.8,388.3 474.5,390.0 474.9,390.1C475.4,390.2 476.3,388.9 476.6,389.3C477.0,389.7 477.5,392.2 477.8,393.5C478.1,394.7 478.5,399.4 478.8,399.3C479.1,399.2 479.6,394.1 480.0,392.6C480.3,391.2 481.2,387.8 481.6,387.6C482.1,387.4 482.9,391.1 483.3,391.0C483.7,390.9 484.5,387.9 485.0,386.8C485.5,385.6 486.8,382.6 487.5,381.8C488.2,380.9 490.1,380.7 490.9,380.1C491.6,379.4 492.9,376.6 493.4,376.7C493.8,376.8 494.0,380.3 494.5,380.9C495.1,381.5 496.9,381.9 497.6,381.8C498.2,381.6 499.4,380.4 500.1,380.1C500.7,379.8 502.0,379.1 502.6,379.2C503.2,379.3 504.5,380.3 505.1,380.9C505.7,381.5 507.0,383.5 507.6,384.3C508.2,385.0 509.5,386.3 510.1,386.8C510.7,387.3 512.0,388.2 512.6,388.1C513.3,388.0 514.4,386.6 515.1,385.9C515.9,385.2 517.8,383.1 518.5,382.6C519.2,382.1 520.4,382.3 521.0,381.8C521.6,381.2 522.9,378.5 523.5,378.4C524.1,378.3 525.4,380.2 526.0,380.9C526.7,381.6 528.0,383.6 528.5,384.3C529.1,384.9 529.8,386.1 530.2,385.9C530.6,385.7 531.5,383.3 531.9,382.6C532.3,381.9 533.2,379.3 533.6,380.1C533.9,380.8 534.5,387.8 534.9,388.5C535.3,389.1 536.4,386.1 536.9,385.1C537.5,384.1 538.9,380.9 539.4,380.1C540.0,379.2 541.0,378.2 541.4,378.4C541.9,378.6 542.3,381.6 542.8,381.8C543.3,381.9 544.7,379.7 545.3,379.2C545.9,378.8 547.1,378.3 547.8,378.4C548.5,378.5 550.2,379.8 551.2,380.1C552.1,380.4 554.6,380.6 555.3,380.9C556.0,381.2 556.4,382.0 556.8,382.3C557.2,382.5 558.0,382.2 558.5,382.6C559.0,382.9 560.4,384.7 561.0,385.1C561.6,385.5 562.9,386.1 563.5,385.9C564.1,385.7 565.4,383.3 566.0,383.4C566.6,383.5 567.7,386.1 568.2,386.8C568.7,387.4 569.6,388.6 570.2,388.5C570.8,388.3 572.1,386.5 572.7,385.9C573.3,385.4 574.6,384.4 575.2,384.3C575.9,384.1 577.1,385.1 577.7,384.8C578.4,384.5 579.7,382.0 580.3,381.8C580.8,381.5 581.8,382.0 582.3,382.6C582.7,383.2 583.5,386.8 583.9,386.8C584.4,386.8 585.6,383.6 586.1,382.6C586.7,381.5 587.9,378.7 588.3,378.4C588.7,378.1 589.2,379.1 589.5,380.1C589.7,381.0 590.0,385.6 590.3,385.9C590.6,386.3 591.5,383.3 592.0,382.6C592.5,381.9 594.0,380.2 594.5,380.1C595.0,380.0 595.7,380.9 596.2,381.8C596.6,382.6 597.4,386.4 597.8,386.8C598.3,387.2 599.0,385.6 599.5,385.1C600.0,384.6 601.4,382.7 602.0,382.6C602.7,382.5 603.9,383.8 604.5,384.3C605.2,384.7 606.4,385.8 607.1,385.9C607.7,386.1 608.9,385.3 609.6,385.4C610.2,385.5 611.4,386.4 612.1,386.8C612.7,387.2 614.0,388.3 614.6,388.5C615.2,388.6 616.4,388.0 617.1,387.6C617.8,387.2 619.7,385.6 620.5,385.1C621.2,384.6 622.5,383.3 623.0,383.4C623.4,383.5 623.8,386.6 624.1,385.9C624.5,385.3 625.1,378.4 625.5,378.4C625.8,378.4 626.4,385.7 626.8,385.9C627.2,386.1 628.1,380.5 628.5,380.1C628.9,379.7 629.8,381.5 630.2,382.6C630.5,383.6 631.0,388.1 631.3,388.5C631.7,388.8 632.6,385.7 633.0,385.1C633.4,384.5 634.3,383.1 634.7,383.4C635.1,383.7 635.9,387.3 636.4,387.6C636.8,387.9 637.6,386.6 638.0,385.9C638.5,385.3 639.4,383.1 639.7,382.6C640.1,382.1 640.6,381.2 640.9,381.8C641.2,382.3 641.9,385.6 642.2,386.8C642.6,387.9 643.5,390.3 643.9,391.0C644.3,391.6 645.2,392.3 645.6,391.8C646.0,391.3 646.9,388.3 647.3,386.8C647.6,385.2 648.3,380.8 648.6,379.2C648.9,377.7 649.5,373.3 649.8,374.2C650.0,375.2 650.2,385.6 650.6,386.8C651.0,387.9 652.5,384.5 653.1,383.4C653.7,382.4 655.0,379.6 655.6,378.4C656.3,377.2 657.6,375.1 658.1,374.2C658.7,373.4 659.8,371.7 660.3,371.7C660.8,371.7 662.1,373.9 662.3,374.2"/>
<path class="cv" d="M104.5,464.5C105.3,464.7 108.9,466.3 110.6,466.0C112.3,465.7 116.4,463.2 118.1,462.2C119.8,461.2 122.6,458.7 124.1,457.7C125.6,456.6 128.9,454.6 130.2,453.9C131.4,453.2 133.2,453.0 133.9,452.4C134.7,451.8 135.7,449.9 136.2,449.4C136.7,448.9 137.3,448.3 137.7,448.6C138.1,449.0 139.0,451.7 139.5,452.4C140.0,453.1 140.8,454.1 141.5,453.9C142.2,453.7 144.2,451.7 145.2,450.9C146.3,450.0 148.6,447.9 149.8,447.1C150.9,446.4 153.3,445.3 154.3,444.9C155.3,444.4 157.4,444.0 158.1,443.3C158.7,442.7 159.1,440.2 159.6,439.6C160.0,439.0 161.2,438.6 161.8,438.5C162.5,438.4 164.3,438.6 164.9,438.8C165.4,439.0 165.9,440.4 166.4,440.3C166.8,440.2 167.9,438.4 168.6,438.1C169.4,437.7 171.5,437.6 172.4,437.6C173.2,437.6 174.7,437.9 175.4,438.1C176.2,438.2 177.8,439.2 178.4,438.8C179.1,438.4 180.2,435.8 180.7,435.1C181.2,434.3 182.2,433.1 182.7,433.1C183.1,433.1 183.9,434.4 184.5,435.1C185.0,435.7 186.6,438.0 187.2,438.1C187.7,438.2 188.4,436.7 189.0,435.8C189.6,434.9 191.3,431.7 192.0,430.5C192.8,429.4 194.3,427.3 195.0,426.8C195.8,426.2 197.3,425.9 198.0,426.0C198.8,426.1 200.3,427.0 201.1,427.5C201.8,428.0 203.4,429.6 204.1,429.8C204.7,430.0 205.8,429.6 206.3,429.0C206.9,428.5 208.0,426.2 208.6,425.2C209.2,424.3 210.3,421.6 210.9,421.5C211.4,421.4 212.6,424.2 213.1,424.5C213.7,424.8 214.8,424.0 215.4,423.7C216.0,423.5 217.0,422.2 217.6,422.2C218.3,422.3 220.1,424.2 220.7,424.2C221.3,424.2 222.0,422.5 222.4,422.3C222.9,422.1 223.7,422.2 224.1,422.5C224.6,422.8 225.4,424.0 225.9,424.8C226.3,425.6 227.1,427.5 227.6,428.8C228.0,430.0 228.9,433.8 229.3,435.0C229.6,436.2 230.2,439.0 230.4,438.4C230.6,437.9 230.7,433.3 231.0,430.5C231.3,427.6 232.4,418.2 232.7,415.7C233.0,413.1 233.3,410.3 233.5,410.0C233.7,409.7 234.1,411.8 234.4,413.4C234.7,415.0 235.3,420.7 235.5,422.5C235.8,424.4 236.4,427.5 236.7,428.2C236.9,428.9 236.8,427.5 237.4,427.8C237.9,428.1 240.0,429.5 240.7,430.3C241.4,431.1 242.7,433.9 243.2,434.5C243.7,435.1 244.5,435.7 244.9,435.3C245.3,434.9 246.1,431.0 246.6,431.1C247.0,431.2 247.7,436.3 248.2,436.2C248.8,436.1 250.2,431.3 250.8,430.3C251.3,429.3 252.0,427.7 252.4,427.8C252.8,427.9 253.6,431.6 254.1,431.1C254.6,430.7 256.0,424.9 256.6,424.4C257.2,424.0 258.6,427.0 259.1,427.8C259.7,428.6 260.3,431.3 260.8,431.1C261.3,430.9 262.7,426.3 263.3,426.1C263.9,425.9 265.3,428.7 265.8,429.5C266.4,430.2 267.0,432.3 267.5,432.0C268.0,431.7 269.4,426.3 270.0,427.0C270.6,427.6 271.9,436.8 272.5,437.0C273.2,437.2 274.2,430.2 275.0,428.6C275.9,427.1 278.5,424.0 279.2,424.4C280.0,424.9 280.3,430.6 280.9,432.0C281.5,433.3 282.8,435.1 284.3,435.3C285.7,435.5 290.5,434.2 292.6,433.7C294.7,433.1 299.4,431.7 301.0,431.1C302.6,430.6 304.5,429.3 305.2,429.5C305.9,429.7 305.9,433.3 306.4,432.8C306.8,432.3 308.1,425.2 308.5,425.3C309.0,425.4 309.7,433.2 310.2,433.7C310.7,434.1 311.8,429.1 312.7,428.6C313.7,428.1 316.7,429.3 317.8,429.5C318.8,429.7 320.1,430.6 321.1,430.3C322.2,430.0 325.2,427.6 326.1,427.0C327.1,426.3 327.8,425.1 328.6,425.3C329.5,425.5 331.9,428.2 332.8,428.6C333.8,429.0 335.5,428.7 336.0,428.6C336.5,428.5 336.3,427.8 336.8,427.8C337.2,427.8 338.5,428.4 339.3,428.7C340.0,428.9 341.8,429.5 342.6,429.5C343.5,429.4 345.1,428.7 346.0,428.3C346.8,427.9 348.5,426.8 349.3,426.1C350.2,425.4 352.0,423.3 352.7,422.8C353.3,422.3 354.0,420.8 354.3,422.0C354.7,423.1 355.0,429.1 355.2,432.0C355.4,434.9 355.7,443.9 356.0,445.4C356.3,446.9 357.2,445.0 357.7,443.7C358.2,442.5 359.6,437.4 360.2,435.4C360.8,433.3 362.1,428.8 362.7,427.0C363.3,425.2 364.6,422.1 365.2,421.1C365.9,420.2 367.2,419.2 367.7,419.4C368.3,419.6 369.0,421.5 369.4,422.8C369.8,424.0 370.7,427.9 371.1,429.5C371.5,431.1 372.3,434.2 372.8,435.4C373.2,436.5 373.9,438.7 374.4,438.7C375.0,438.7 376.4,435.5 377.0,435.4C377.5,435.2 378.2,437.3 378.6,437.9C379.0,438.4 379.8,439.5 380.3,439.5C380.8,439.5 382.1,438.3 382.8,437.9C383.5,437.4 385.2,436.8 386.2,436.2C387.1,435.6 389.3,433.6 390.4,432.8C391.4,432.1 393.6,430.9 394.5,430.3C395.5,429.8 397.2,428.4 397.9,428.3C398.6,428.2 399.9,429.6 400.4,429.5C400.9,429.4 401.7,427.7 402.1,427.8C402.5,427.9 403.2,430.1 403.8,430.3C404.3,430.5 405.5,429.9 406.3,429.5C407.0,429.1 408.8,427.3 409.6,427.0C410.5,426.6 412.1,426.5 413.0,426.6C413.8,426.8 415.5,427.9 416.3,428.3C417.2,428.8 418.9,429.8 419.7,430.3C420.4,430.9 421.5,432.6 422.2,432.8C422.8,433.0 424.2,432.4 424.7,432.0C425.2,431.6 425.9,429.4 426.4,429.5C426.8,429.6 427.6,432.1 428.0,432.8C428.5,433.6 429.2,435.4 429.7,435.4C430.2,435.4 431.6,432.9 432.2,432.8C432.9,432.7 434.2,434.5 434.7,434.5C435.3,434.5 436.0,432.5 436.4,432.8C436.8,433.2 437.7,436.8 438.1,437.0C438.5,437.2 439.4,434.1 439.8,434.5C440.1,434.9 440.6,439.5 440.9,440.4C441.3,441.2 441.9,441.5 442.3,441.2C442.7,440.9 443.5,439.0 444.0,437.9C444.4,436.7 445.2,433.2 445.6,432.0C446.1,430.9 447.1,429.0 447.6,428.7C448.2,428.3 449.1,429.0 449.8,429.5C450.5,430.0 452.4,432.3 453.2,432.8C453.9,433.4 454.9,433.9 455.7,433.7C456.4,433.5 458.2,431.7 459.0,431.2C459.9,430.6 461.5,429.8 462.4,429.5C463.2,429.1 464.9,428.1 465.7,428.3C466.6,428.5 468.3,430.7 469.1,431.2C469.8,431.6 470.9,432.2 471.6,432.0C472.3,431.8 474.1,429.9 474.9,429.5C475.8,429.0 477.5,428.3 478.3,428.3C479.1,428.3 481.0,428.9 481.6,429.5C482.3,430.1 482.9,431.7 483.3,432.8C483.7,434.0 484.6,437.6 485.0,438.7C485.4,439.9 486.2,441.7 486.7,442.1C487.1,442.4 487.8,442.1 488.3,441.2C488.9,440.4 490.2,436.8 490.9,435.4C491.5,433.9 492.7,430.6 493.4,429.5C494.0,428.3 495.3,426.7 495.9,426.1C496.4,425.6 497.4,425.1 497.9,425.3C498.4,425.5 499.5,427.0 500.1,427.8C500.7,428.7 502.0,431.2 502.6,432.0C503.2,432.8 504.5,434.2 505.1,434.5C505.7,434.8 506.9,434.8 507.6,434.5C508.3,434.2 510.1,432.7 511.0,432.0C511.8,431.3 513.5,429.2 514.3,428.7C515.1,428.1 516.9,427.2 517.7,427.3C518.4,427.4 519.5,428.8 520.2,429.5C520.8,430.2 522.1,432.2 522.7,432.8C523.3,433.5 524.5,434.7 525.2,434.5C525.9,434.3 527.7,432.2 528.5,431.2C529.4,430.1 531.2,426.9 531.9,426.1C532.6,425.4 533.7,424.1 534.1,425.3C534.5,426.5 534.9,433.3 535.2,435.4C535.5,437.4 536.0,441.0 536.4,442.1C536.8,443.1 538.0,444.0 538.6,444.1C539.2,444.2 540.5,443.6 541.1,442.9C541.7,442.2 543.0,440.0 543.6,438.7C544.2,437.4 545.6,434.2 546.1,432.8C546.7,431.5 547.7,428.8 548.1,427.8C548.6,426.9 549.1,424.8 549.5,425.3C549.9,425.8 550.7,431.5 551.2,432.0C551.6,432.5 552.3,430.3 552.8,429.5C553.4,428.7 554.8,426.3 555.3,425.3C555.8,424.3 556.5,421.8 556.8,421.1C557.1,420.4 557.2,420.0 557.6,419.4C558.1,418.9 559.6,416.8 560.2,416.9C560.7,417.0 561.4,420.1 561.8,420.3C562.2,420.5 563.1,418.4 563.5,418.6C563.9,418.8 564.5,420.6 564.8,422.0C565.2,423.3 565.7,427.9 566.0,429.5C566.4,431.1 567.3,434.1 567.7,434.5C568.1,434.9 568.9,432.5 569.4,432.8C569.8,433.2 570.6,436.2 571.0,437.0C571.5,437.9 572.3,439.0 572.7,439.5C573.1,440.1 574.0,440.5 574.4,441.2C574.7,441.9 575.2,444.3 575.6,445.4C575.9,446.6 576.5,449.5 576.9,450.4C577.3,451.4 578.2,453.1 578.6,452.9C579.0,452.7 579.8,450.0 580.3,448.8C580.7,447.5 581.7,444.1 582.3,442.9C582.8,441.6 584.0,439.4 584.4,438.7C584.9,438.0 585.8,436.8 586.1,437.0C586.4,437.2 586.7,439.1 587.0,440.4C587.2,441.6 587.5,446.9 587.8,447.1C588.1,447.3 589.0,443.3 589.5,442.1C589.9,440.8 590.7,437.8 591.1,437.0C591.6,436.3 592.4,435.9 592.8,436.2C593.2,436.5 594.1,439.0 594.5,439.5C594.9,440.1 595.6,440.8 596.2,440.4C596.7,440.0 598.0,437.2 598.7,436.2C599.3,435.1 600.6,432.8 601.2,432.0C601.8,431.2 603.1,429.9 603.7,429.5C604.3,429.0 605.7,428.2 606.2,428.3C606.7,428.4 607.5,429.7 607.9,430.3C608.3,431.0 609.1,432.9 609.6,433.7C610.0,434.5 611.2,436.4 611.7,436.7C612.3,437.0 613.2,436.6 613.8,436.2C614.3,435.8 615.6,434.3 616.3,433.7C616.9,433.0 618.1,431.8 618.8,431.2C619.4,430.5 620.8,428.9 621.3,428.7C621.8,428.4 622.5,429.0 623.0,429.5C623.4,430.0 624.2,432.3 624.6,432.8C625.1,433.4 625.8,434.0 626.3,433.7C626.8,433.4 628.2,431.2 628.8,430.3C629.5,429.5 630.8,427.6 631.3,427.0C631.9,426.4 632.6,425.9 633.0,425.6C633.4,425.4 634.3,424.6 634.7,425.0C635.1,425.3 635.9,428.0 636.4,428.7C636.8,429.3 637.6,430.0 638.0,430.3C638.5,430.6 639.2,431.3 639.7,431.2C640.2,431.1 641.6,429.8 642.2,429.5C642.9,429.2 644.1,428.7 644.7,428.7C645.4,428.7 646.7,429.6 647.3,429.5C647.8,429.4 648.5,427.7 648.9,427.8C649.3,427.9 650.2,429.4 650.6,430.3C651.0,431.3 651.9,434.3 652.3,435.4C652.7,436.4 653.5,438.2 654.0,438.7C654.4,439.2 655.4,439.6 656.0,439.5C656.5,439.4 657.6,438.6 658.1,437.9C658.7,437.1 659.8,434.8 660.3,433.7C660.8,432.5 662.1,429.3 662.3,428.7"/>
<path class="cv" d="M828.2,463.7C828.5,462.9 830.2,458.5 830.8,456.9C831.4,455.3 832.4,452.6 833.0,450.9C833.7,449.2 835.3,445.2 836.1,443.3C836.8,441.5 838.4,437.4 839.1,435.8C839.7,434.2 840.8,431.8 841.3,430.5C841.9,429.2 843.0,426.4 843.6,425.2C844.2,424.1 845.4,422.0 845.9,421.0C846.3,420.1 847.1,418.6 847.4,417.7C847.7,416.8 848.1,415.2 848.3,413.9C848.4,412.7 848.5,409.0 848.6,407.9C848.7,406.8 849.0,405.5 849.3,404.9C849.7,404.2 850.7,403.2 851.1,402.6C851.6,402.1 852.6,401.0 853.0,400.4C853.3,399.7 854.0,398.5 854.2,397.3C854.4,396.2 854.5,392.9 854.6,391.3C854.8,389.7 855.0,385.9 855.2,384.5C855.4,383.1 855.8,380.9 856.1,380.0C856.4,379.1 857.2,377.6 857.5,377.5C857.8,377.4 858.5,379.7 858.8,379.2C859.2,378.7 859.8,374.5 860.0,373.4C860.3,372.2 860.8,370.4 860.9,370.0C860.9,369.6 860.5,371.0 860.5,370.0C860.5,369.0 860.7,363.8 860.9,362.1C861.0,360.4 861.4,357.5 861.7,356.3C862.0,355.1 862.9,352.7 863.4,352.4C863.8,352.1 864.7,353.3 865.0,353.8C865.4,354.2 865.9,356.5 866.2,356.3C866.5,356.1 867.3,353.4 867.6,352.1C867.8,350.7 868.1,347.3 868.4,345.4C868.6,343.5 869.2,338.7 869.6,337.0C869.9,335.3 870.8,332.8 871.2,332.0C871.7,331.1 872.9,330.6 873.4,330.3C874.0,330.0 875.2,330.1 875.6,329.5C875.9,328.8 876.2,326.4 876.3,325.3C876.3,324.1 876.1,321.2 876.3,320.3C876.5,319.3 877.5,318.7 877.9,317.7C878.4,316.8 879.6,314.1 880.1,312.7C880.6,311.4 881.4,308.2 881.8,306.9C882.2,305.5 883.0,302.9 883.5,301.8C883.9,300.8 884.7,299.1 885.1,298.5C885.6,297.8 886.9,297.3 887.3,296.5C887.7,295.6 888.3,293.2 888.5,291.8C888.7,290.4 888.7,285.9 888.7,285.1C888.6,284.2 888.2,285.8 888.4,285.0C888.6,284.2 889.7,280.4 890.1,278.8C890.5,277.2 891.2,274.3 891.3,272.1C891.4,269.9 890.8,263.3 890.9,261.2C891.1,259.1 892.0,256.9 892.6,255.4C893.2,253.8 895.1,250.2 896.0,248.7C896.8,247.1 898.5,244.5 899.3,242.8C900.2,241.1 901.9,237.0 902.7,235.3C903.4,233.5 904.7,230.3 905.2,228.6C905.7,226.8 906.5,222.6 906.9,221.0C907.2,219.4 907.8,216.7 908.2,216.0C908.6,215.3 909.4,214.8 909.9,215.2C910.3,215.5 911.1,217.9 911.5,218.5C912.0,219.1 912.8,220.4 913.2,220.2C913.6,220.0 914.4,218.0 914.9,216.8C915.4,215.7 916.4,212.2 916.9,211.0C917.4,209.7 918.5,207.9 918.9,206.8C919.3,205.6 919.9,203.0 920.3,201.8C920.6,200.5 921.4,197.3 921.9,196.4C922.4,195.5 923.7,195.2 924.4,194.7C925.2,194.2 927.2,192.8 927.8,192.5C928.4,192.3 929.0,192.2 929.5,192.5C929.9,192.9 930.7,194.5 931.1,195.1C931.6,195.6 932.4,197.3 932.8,197.1C933.2,196.9 934.1,194.4 934.5,193.4C934.9,192.4 935.6,189.7 936.2,189.2C936.7,188.7 938.2,189.4 938.7,189.2C939.2,189.0 939.9,188.0 940.4,187.5C940.8,187.0 941.7,185.7 942.0,185.0C942.4,184.3 942.7,182.3 943.1,181.7C943.4,181.1 944.5,181.0 945.1,180.4C945.6,179.8 947.0,178.1 947.6,177.0C948.2,176.0 949.5,173.2 950.1,172.0C950.7,170.8 952.0,167.8 952.6,167.3C953.2,166.9 954.5,168.5 955.1,168.3C955.8,168.1 957.0,166.3 957.6,165.6C958.3,165.0 959.6,163.6 960.2,163.3C960.7,162.9 961.7,162.4 962.2,162.8C962.6,163.1 963.4,165.2 963.8,166.1C964.3,167.1 965.1,169.8 965.5,170.3C965.9,170.9 966.7,171.0 967.2,170.7C967.7,170.3 968.8,168.4 969.4,167.3C969.9,166.2 971.2,163.1 971.9,162.0C972.5,160.8 973.9,157.9 974.4,157.8C974.9,157.7 975.5,161.0 976.1,161.1C976.6,161.3 977.8,159.4 978.6,158.9C979.3,158.5 981.1,157.6 981.9,157.4C982.7,157.3 984.2,157.7 985.0,157.9C985.8,158.1 987.3,158.9 988.0,158.9C988.8,159.0 990.3,158.9 991.0,158.5C991.8,158.1 993.3,156.9 994.0,155.9C994.8,155.0 996.3,152.4 997.0,150.7C997.8,149.0 999.3,144.7 1000.1,142.4C1000.8,140.0 1002.4,134.1 1003.1,131.8C1003.7,129.6 1004.8,125.9 1005.3,124.3C1005.8,122.7 1006.9,118.5 1007.1,118.7C1007.4,119.0 1007.4,124.5 1007.6,126.6C1007.8,128.7 1008.4,133.5 1008.8,135.6C1009.2,137.7 1010.2,141.7 1010.6,143.1C1011.1,144.5 1012.0,146.6 1012.4,146.9C1012.8,147.2 1013.6,146.0 1013.9,145.4C1014.3,144.8 1014.9,143.2 1015.1,142.4C1015.3,141.6 1015.7,138.3 1015.7,138.9C1015.8,139.6 1015.7,145.8 1015.6,147.7C1015.4,149.5 1014.7,152.4 1014.4,153.7C1014.0,155.0 1012.9,158.0 1012.9,158.2C1012.9,158.4 1014.1,155.7 1014.4,155.2C1014.6,154.7 1014.9,154.1 1015.1,154.4C1015.3,154.8 1015.6,158.1 1015.9,158.2C1016.1,158.3 1016.7,155.5 1016.9,155.2C1017.2,154.9 1017.6,154.8 1017.8,155.9C1018.0,157.1 1018.3,162.4 1018.4,164.2C1018.5,166.0 1018.5,170.2 1018.7,170.2C1018.9,170.2 1019.6,165.7 1019.9,164.2C1020.2,162.7 1020.8,159.2 1021.1,158.2C1021.5,157.2 1022.2,156.5 1022.7,156.4C1023.1,156.3 1024.1,156.6 1024.5,157.4C1024.8,158.2 1025.4,160.7 1025.7,162.7C1025.9,164.7 1026.2,170.4 1026.4,173.3C1026.6,176.1 1026.9,182.9 1027.2,185.3C1027.4,187.7 1028.0,191.2 1028.4,192.1C1028.7,192.9 1029.5,192.7 1029.9,192.1C1030.3,191.4 1031.2,188.6 1031.7,186.8C1032.2,185.0 1033.4,179.9 1033.9,177.8C1034.5,175.6 1035.6,171.3 1036.2,169.5C1036.8,167.7 1037.9,164.5 1038.5,163.5C1039.0,162.4 1040.0,161.4 1040.4,161.2C1040.9,161.0 1041.8,161.3 1042.2,162.0C1042.7,162.6 1043.6,164.9 1044.0,166.5C1044.5,168.1 1045.6,172.4 1046.0,174.8C1046.4,177.1 1047.2,182.9 1047.5,185.3C1047.8,187.7 1048.3,192.6 1048.6,194.3C1048.8,196.0 1049.4,198.5 1049.8,198.9C1050.1,199.2 1050.9,198.5 1051.3,197.3C1051.6,196.2 1052.4,191.9 1052.8,189.8C1053.2,187.7 1054.1,182.6 1054.6,180.8C1055.0,178.9 1056.0,176.0 1056.5,175.1C1057.1,174.1 1058.3,173.6 1058.8,173.3C1059.3,172.9 1060.3,171.9 1060.8,172.0C1061.2,172.2 1061.8,174.0 1062.1,174.8C1062.4,175.5 1062.9,177.7 1063.3,177.8C1063.7,177.8 1064.9,176.4 1065.3,175.4C1065.8,174.3 1066.6,170.9 1067.0,169.5C1067.4,168.1 1068.3,165.2 1068.7,164.5C1069.1,163.7 1069.9,163.3 1070.4,163.6C1070.8,163.9 1071.9,166.2 1072.4,167.0C1072.9,167.7 1074.1,170.9 1074.4,169.5C1074.7,168.1 1074.8,156.6 1075.1,156.1C1075.3,155.6 1075.8,163.0 1076.1,165.3C1076.4,167.6 1077.1,173.3 1077.4,174.5C1077.7,175.8 1078.4,176.0 1078.7,175.4C1079.1,174.7 1080.0,171.2 1080.4,169.5C1080.8,167.8 1081.7,163.1 1082.1,162.0C1082.4,160.8 1083.0,160.3 1083.3,160.3C1083.6,160.3 1084.0,162.2 1084.4,162.0C1084.9,161.7 1086.1,158.9 1086.6,158.6C1087.1,158.3 1087.9,158.8 1088.3,159.4C1088.7,160.1 1089.5,162.7 1090.0,163.6C1090.4,164.6 1091.3,167.2 1091.6,167.0C1092.0,166.8 1092.6,163.4 1092.8,162.0C1093.0,160.5 1093.3,154.9 1093.5,155.3C1093.7,155.6 1094.2,162.3 1094.5,164.5C1094.8,166.7 1095.5,171.5 1095.8,172.8C1096.2,174.2 1097.1,175.8 1097.5,175.4C1097.9,174.9 1098.8,171.4 1099.2,169.5C1099.6,167.6 1100.1,161.8 1100.5,160.3C1100.9,158.7 1101.7,156.9 1102.2,156.9C1102.7,156.9 1103.7,159.0 1104.2,160.3C1104.7,161.5 1105.5,164.9 1105.9,167.0C1106.3,169.1 1107.2,174.6 1107.6,177.0C1107.9,179.4 1108.6,184.9 1108.9,186.2C1109.2,187.6 1109.7,188.3 1110.1,187.9C1110.4,187.5 1111.3,184.7 1111.7,182.9C1112.2,181.1 1112.9,175.9 1113.4,173.7C1113.9,171.5 1115.1,166.7 1115.6,165.3C1116.1,163.9 1117.1,162.5 1117.6,162.3C1118.1,162.1 1118.9,162.4 1119.3,163.6C1119.7,164.8 1120.5,170.0 1121.0,172.0C1121.4,174.0 1122.2,178.0 1122.6,179.5C1123.0,181.1 1123.8,183.7 1124.3,184.6C1124.8,185.4 1125.8,186.4 1126.3,186.2C1126.8,186.0 1128.0,184.3 1128.5,182.9C1129.0,181.5 1129.7,177.8 1130.2,175.4C1130.6,172.9 1131.4,166.6 1131.8,163.6C1132.3,160.7 1133.1,154.1 1133.5,151.9C1133.9,149.7 1134.8,146.6 1135.2,146.0C1135.5,145.5 1136.1,146.6 1136.4,147.7C1136.7,148.9 1137.4,153.3 1137.7,155.3C1138.0,157.2 1138.3,163.4 1138.5,163.6C1138.8,163.8 1139.4,158.2 1139.7,156.9C1140.0,155.7 1140.4,153.6 1140.7,153.6C1141.0,153.6 1141.6,155.7 1141.9,156.9C1142.2,158.2 1142.8,162.9 1143.1,163.6C1143.4,164.4 1144.1,163.6 1144.4,162.8C1144.7,162.0 1145.5,156.6 1145.7,156.9C1146.0,157.2 1146.2,165.1 1146.4,165.3C1146.7,165.5 1147.4,159.6 1147.8,158.6C1148.1,157.6 1148.7,156.8 1149.1,156.9C1149.5,157.0 1150.4,158.7 1150.8,159.4C1151.2,160.2 1152.0,162.7 1152.4,162.8C1152.9,162.9 1154.0,160.9 1154.5,160.3C1155.0,159.6 1156.0,157.8 1156.5,157.8C1156.9,157.8 1157.7,159.2 1158.1,160.3C1158.6,161.3 1159.4,165.1 1159.8,166.1C1160.2,167.2 1161.1,169.1 1161.5,169.0C1161.9,168.9 1162.6,166.7 1163.0,165.2C1163.5,163.7 1164.5,158.9 1165.0,156.8C1165.5,154.7 1166.5,149.9 1167.0,148.4C1167.6,146.9 1168.7,145.3 1169.2,144.7C1169.8,144.2 1170.9,144.1 1171.4,144.2C1171.9,144.4 1173.0,145.0 1173.4,145.9C1173.8,146.9 1174.4,150.3 1174.7,151.8C1175.1,153.2 1176.0,156.3 1176.4,157.6C1176.9,159.0 1177.9,161.6 1178.4,162.7C1178.9,163.8 1179.9,165.7 1180.4,166.5C1181.0,167.3 1182.1,168.9 1182.6,168.9C1183.1,168.8 1183.9,167.0 1184.3,166.0C1184.7,165.0 1185.6,161.8 1186.0,161.0C1186.3,160.2 1186.9,159.0 1187.1,159.3C1187.4,159.6 1187.9,162.1 1188.1,163.5C1188.4,164.9 1189.0,169.9 1189.3,170.2C1189.7,170.5 1190.6,167.1 1191.0,166.0C1191.4,165.0 1192.2,162.5 1192.7,161.8C1193.1,161.2 1194.0,161.5 1194.3,161.0C1194.7,160.5 1195.2,157.6 1195.5,157.6C1195.9,157.6 1196.8,160.7 1197.2,161.0C1197.6,161.3 1198.4,160.5 1198.9,160.2C1199.3,159.8 1200.5,158.4 1201.0,158.5C1201.6,158.6 1202.7,160.2 1203.2,161.0C1203.7,161.8 1204.5,164.0 1204.9,165.2C1205.3,166.3 1206.2,169.4 1206.6,170.2C1206.9,171.0 1207.4,172.4 1207.7,171.9C1208.0,171.4 1208.6,167.3 1208.9,166.0C1209.2,164.8 1210.0,160.9 1210.3,161.8C1210.5,162.8 1210.9,170.7 1211.1,173.6C1211.3,176.4 1211.3,183.7 1211.6,184.4C1211.9,185.2 1212.8,181.2 1213.3,179.4C1213.7,177.6 1214.8,172.2 1215.3,170.2C1215.8,168.2 1216.8,164.7 1217.3,163.5C1217.7,162.3 1218.6,161.0 1219.0,161.0C1219.3,161.0 1220.0,162.1 1220.3,163.5C1220.6,164.9 1221.3,169.8 1221.6,171.9C1222.0,174.0 1222.9,179.4 1223.3,180.3C1223.7,181.1 1224.6,179.1 1225.0,178.6C1225.4,178.1 1226.2,176.2 1226.7,176.1C1227.1,176.0 1227.9,176.6 1228.3,177.7C1228.8,178.9 1229.6,183.6 1230.0,185.3C1230.4,187.0 1231.3,190.3 1231.7,191.1C1232.1,192.0 1232.9,192.4 1233.4,192.3C1233.8,192.2 1234.9,190.8 1235.4,190.3C1235.9,189.8 1236.9,188.4 1237.4,188.6C1237.9,188.8 1239.0,191.2 1239.6,192.0C1240.2,192.8 1241.4,194.6 1242.1,195.0C1242.7,195.4 1244.0,195.6 1244.6,195.3C1245.2,195.1 1246.5,193.8 1247.1,192.8C1247.7,191.9 1249.0,189.4 1249.6,187.8C1250.2,186.2 1251.6,182.0 1252.1,180.3C1252.7,178.5 1253.7,174.9 1254.1,173.6C1254.6,172.2 1255.4,169.9 1255.8,169.4C1256.2,168.8 1256.9,168.2 1257.2,169.4C1257.4,170.5 1257.8,175.1 1258.0,178.6C1258.2,182.0 1258.3,193.2 1258.5,197.0C1258.6,200.8 1258.9,206.5 1259.2,208.7C1259.4,210.9 1260.1,214.0 1260.5,214.6C1260.9,215.2 1261.7,214.5 1262.2,213.8C1262.6,213.0 1263.7,210.4 1264.2,208.7C1264.7,207.1 1265.8,202.7 1266.4,200.4C1267.0,198.0 1268.2,192.8 1268.9,190.3C1269.5,187.8 1270.8,182.6 1271.4,180.3C1272.0,177.9 1273.0,173.5 1273.6,171.9C1274.1,170.2 1275.1,167.8 1275.6,167.2C1276.0,166.6 1276.9,166.3 1277.3,166.9C1277.6,167.4 1278.3,169.6 1278.6,171.9C1278.9,174.2 1279.6,181.9 1279.8,185.3C1280.0,188.6 1280.1,197.5 1280.3,198.7C1280.5,199.8 1281.1,196.2 1281.4,194.5C1281.7,192.8 1282.3,186.0 1282.6,185.3C1282.9,184.5 1283.6,187.3 1284.0,188.6C1284.3,190.0 1284.9,195.6 1285.3,196.2C1285.7,196.7 1286.5,194.0 1287.0,192.8C1287.4,191.7 1288.3,187.8 1288.6,187.0C1289.0,186.1 1289.5,185.7 1289.8,186.1C1290.1,186.5 1290.7,189.6 1291.0,190.3C1291.3,191.0 1292.0,191.9 1292.3,191.6C1292.7,191.4 1293.5,189.2 1294.0,188.6C1294.5,188.0 1295.9,187.0 1296.5,187.0C1297.1,187.0 1298.2,188.0 1298.7,188.6C1299.2,189.3 1299.9,192.0 1300.4,192.0C1300.8,192.0 1301.9,189.7 1302.4,188.6C1302.9,187.6 1303.9,184.9 1304.4,183.6C1304.9,182.3 1306.0,179.9 1306.6,178.6C1307.1,177.2 1308.2,174.1 1308.7,172.7C1309.3,171.4 1310.3,168.8 1310.8,167.7C1311.3,166.5 1312.3,164.4 1312.8,163.5C1313.2,162.6 1314.1,160.8 1314.4,160.2C1314.8,159.5 1315.5,157.8 1315.8,158.1C1316.1,158.5 1316.3,161.7 1316.6,162.7C1316.9,163.6 1317.8,165.1 1318.3,166.0C1318.8,167.0 1320.0,168.9 1320.5,170.2C1321.0,171.5 1321.7,174.7 1322.1,176.1C1322.6,177.4 1323.4,180.4 1323.8,181.1C1324.2,181.8 1325.0,182.2 1325.5,181.9C1326.0,181.6 1327.1,179.4 1327.5,178.6C1327.9,177.7 1328.5,175.6 1328.8,175.2C1329.2,174.8 1330.1,175.9 1330.5,175.6C1331.0,175.2 1332.0,172.9 1332.5,172.7C1333.0,172.5 1334.1,174.0 1334.5,173.9C1335.0,173.8 1335.8,172.0 1336.2,171.9C1336.6,171.7 1337.5,171.9 1337.9,172.7C1338.3,173.6 1339.2,177.5 1339.6,178.6C1339.9,179.6 1340.5,181.1 1340.9,181.1C1341.3,181.1 1342.2,179.0 1342.6,178.6C1343.0,178.2 1343.9,177.5 1344.3,177.7C1344.6,177.9 1345.3,179.3 1345.6,180.3C1345.9,181.2 1346.4,184.9 1346.8,185.3C1347.1,185.7 1348.0,183.4 1348.4,183.3C1348.9,183.2 1350.1,183.9 1350.6,184.4C1351.1,185.0 1352.2,187.1 1352.6,187.8C1353.1,188.5 1353.8,190.0 1354.3,190.0C1354.8,190.0 1355.8,188.5 1356.3,187.8C1356.8,187.1 1358.0,185.1 1358.5,184.4C1359.0,183.8 1359.7,182.6 1360.2,182.8C1360.6,183.0 1361.5,184.3 1361.8,186.1C1362.2,187.9 1362.8,194.0 1363.0,197.0C1363.2,200.0 1363.4,207.4 1363.5,210.4C1363.7,213.4 1364.1,219.2 1364.4,221.3C1364.6,223.4 1365.3,226.5 1365.7,227.2C1366.1,227.8 1367.0,227.4 1367.4,226.3C1367.8,225.3 1368.6,221.2 1369.0,218.8C1369.5,216.4 1370.3,209.8 1370.7,207.1C1371.1,204.3 1372.0,199.3 1372.4,197.0C1372.8,194.7 1373.7,190.3 1374.1,188.6C1374.4,187.0 1374.9,184.4 1375.2,183.6C1375.5,182.8 1376.3,180.7 1376.4,181.9C1376.6,183.2 1376.4,190.7 1376.4,193.7C1376.5,196.6 1376.6,204.1 1376.9,205.4C1377.2,206.6 1378.1,204.2 1378.6,203.7C1379.1,203.2 1380.2,201.2 1380.8,201.2C1381.3,201.2 1382.3,203.1 1382.8,203.7C1383.3,204.3 1384.3,205.9 1384.8,206.2C1385.3,206.5 1386.5,206.1 1387.0,206.2C1387.4,206.3 1388.2,207.4 1388.6,207.1C1389.1,206.7 1389.9,205.0 1390.3,203.7C1390.7,202.4 1391.6,198.7 1392.0,197.0C1392.4,195.3 1393.2,191.7 1393.7,190.3C1394.2,188.9 1395.7,186.6 1396.0,186.1"/>
<path class="cv" d="M828.2,463.7C828.8,463.6 831.7,463.3 833.0,462.7C834.4,462.0 837.4,459.7 839.1,458.4C840.8,457.1 844.7,453.9 846.6,452.4C848.5,450.9 852.5,447.7 854.2,446.4C855.9,445.0 858.9,442.6 860.2,441.5C861.5,440.5 863.6,438.9 864.7,438.1C865.9,437.3 868.1,435.8 869.2,435.1C870.4,434.4 872.8,433.0 873.8,432.5C874.7,432.0 875.9,431.5 876.8,431.3C877.6,431.1 879.7,431.1 880.6,431.0C881.4,430.9 882.9,431.0 883.6,430.5C884.2,430.1 885.4,428.5 885.8,427.5C886.3,426.5 887.0,423.6 887.3,422.2C887.7,420.8 888.5,417.6 888.9,416.2C889.2,414.8 890.0,412.0 890.4,410.9C890.8,409.9 891.7,408.4 892.2,407.9C892.6,407.4 893.6,406.8 894.1,406.8C894.7,406.8 895.8,407.5 896.4,407.9C897.0,408.3 898.2,410.3 898.7,410.2C899.1,410.1 899.8,408.3 900.2,407.1C900.5,406.0 900.9,402.4 901.2,401.1C901.5,399.8 902.0,397.5 902.4,396.6C902.9,395.6 904.2,394.4 904.7,393.6C905.2,392.7 906.2,390.9 906.7,389.8C907.1,388.7 908.0,385.8 908.5,384.5C908.9,383.3 909.6,381.0 910.0,380.0C910.4,379.0 911.3,376.7 911.6,376.7C912.0,376.7 912.5,379.2 912.8,380.1C913.1,380.9 913.7,383.6 914.1,383.4C914.5,383.2 915.4,379.6 915.8,378.4C916.2,377.1 917.0,374.4 917.5,373.4C917.9,372.3 918.8,370.8 919.1,370.0C919.5,369.2 919.9,368.0 920.3,367.2C920.8,366.3 922.3,364.4 922.8,363.0C923.3,361.5 923.9,356.9 924.2,355.4C924.5,354.0 925.0,351.7 925.3,351.2C925.7,350.8 926.6,352.5 927.0,352.1C927.4,351.7 928.3,348.9 928.7,347.9C929.0,346.8 929.7,343.2 929.9,343.7C930.1,344.2 930.1,351.4 930.4,352.1C930.6,352.7 931.5,350.1 932.0,348.7C932.6,347.4 933.9,343.1 934.6,341.2C935.2,339.3 936.4,335.5 937.1,333.7C937.7,331.8 939.0,327.6 939.6,326.1C940.1,324.6 941.1,322.1 941.6,321.9C942.1,321.7 943.3,324.0 943.8,324.4C944.2,324.9 945.0,325.8 945.4,325.3C945.9,324.8 946.7,321.7 947.1,320.3C947.5,318.8 948.4,314.8 948.8,313.6C949.2,312.3 950.1,310.8 950.5,310.2C950.8,309.6 951.2,309.0 951.7,308.8C952.1,308.5 953.6,308.3 954.2,308.4C954.8,308.5 956.1,309.8 956.7,309.6C957.3,309.4 958.3,308.2 958.7,307.1C959.1,305.9 959.8,302.3 960.1,300.4C960.3,298.5 960.7,293.6 960.9,292.0C961.1,290.4 961.5,288.1 961.7,287.8C962.0,287.5 962.7,290.0 963.1,289.5C963.4,289.0 964.3,285.1 964.7,283.6C965.2,282.2 966.1,278.6 966.4,277.8C966.8,276.9 967.3,276.4 967.6,276.6C967.9,276.8 968.4,278.9 968.8,279.4C969.1,280.0 969.7,281.3 970.1,281.1C970.5,280.9 971.6,278.7 972.1,277.8C972.6,276.8 973.7,274.4 974.3,273.6C974.8,272.7 976.0,271.4 976.5,271.1C976.9,270.7 977.3,270.1 977.6,270.6C977.9,271.0 978.5,273.6 978.8,274.4C979.1,275.2 979.5,277.1 979.8,276.9C980.2,276.7 981.1,273.7 981.5,272.7C981.9,271.7 982.8,269.4 983.2,268.9C983.5,268.4 984.0,268.2 984.3,268.6C984.7,268.9 985.6,271.0 986.0,271.9C986.4,272.8 987.3,275.9 987.7,276.1C988.1,276.3 988.9,274.5 989.4,273.6C989.8,272.7 991.0,269.7 991.5,268.9C992.1,268.0 993.0,267.1 993.6,266.9C994.1,266.6 995.5,266.8 996.1,266.9C996.6,267.0 997.4,267.9 997.7,267.7C998.1,267.5 998.3,265.3 998.6,265.2C998.8,265.1 999.5,267.0 999.9,267.2C1000.3,267.4 1001.4,266.8 1001.9,266.5C1002.5,266.2 1003.8,265.5 1004.4,264.9C1005.1,264.3 1006.3,262.9 1007.0,261.9C1007.6,260.8 1008.9,258.2 1009.5,256.8C1010.0,255.5 1010.8,252.5 1011.1,251.0C1011.5,249.4 1012.1,245.3 1012.3,244.3C1012.5,243.2 1012.6,241.9 1012.8,242.6C1013.0,243.3 1013.8,247.7 1014.0,250.1C1014.2,252.5 1014.5,259.1 1014.5,261.9C1014.4,264.6 1013.9,269.7 1013.7,271.9C1013.4,274.1 1012.7,278.6 1012.8,279.4C1012.9,280.2 1014.0,279.0 1014.5,278.3C1015.0,277.5 1016.4,275.2 1017.0,273.6C1017.6,271.9 1018.9,267.3 1019.5,265.2C1020.1,263.1 1021.2,258.4 1021.7,256.8C1022.2,255.3 1023.3,253.1 1023.7,252.6C1024.1,252.2 1024.7,252.7 1025.0,253.5C1025.4,254.2 1026.3,256.8 1026.7,258.5C1027.2,260.2 1028.3,265.2 1028.7,266.9C1029.2,268.6 1030.0,271.1 1030.4,271.9C1030.8,272.7 1031.7,273.6 1032.1,273.2C1032.5,272.9 1033.3,270.6 1033.8,269.4C1034.2,268.2 1035.0,264.7 1035.4,263.5C1035.8,262.3 1036.7,259.9 1037.1,259.8C1037.5,259.7 1038.2,261.0 1038.4,262.7C1038.7,264.4 1038.8,271.3 1038.8,273.6C1038.8,275.9 1038.3,280.7 1038.4,281.1C1038.5,281.5 1039.3,278.3 1039.6,276.9C1040.0,275.6 1040.9,270.6 1041.3,270.2C1041.7,269.8 1042.5,272.6 1043.0,273.6C1043.4,274.5 1044.7,277.2 1045.1,277.8C1045.6,278.3 1046.4,278.3 1046.8,277.8C1047.3,277.2 1048.3,274.7 1048.8,273.6C1049.4,272.4 1050.7,269.6 1051.3,268.6C1052.0,267.5 1053.4,265.6 1053.9,265.2C1054.3,264.8 1054.9,264.4 1055.2,265.2C1055.4,266.0 1055.7,269.8 1055.9,271.9C1056.1,274.0 1056.6,280.2 1056.9,282.0C1057.1,283.7 1057.7,285.7 1058.0,286.1C1058.4,286.6 1059.2,286.1 1059.7,285.3C1060.2,284.5 1061.6,281.2 1062.2,279.4C1062.9,277.7 1064.1,273.4 1064.7,271.1C1065.4,268.8 1066.7,263.6 1067.3,261.0C1067.8,258.4 1068.6,252.4 1068.9,250.1C1069.2,247.8 1069.4,242.8 1069.6,242.6C1069.8,242.4 1070.3,246.5 1070.6,248.5C1070.9,250.4 1071.7,255.4 1071.9,258.5C1072.2,261.6 1072.2,270.4 1072.3,273.6C1072.3,276.7 1072.1,282.8 1072.3,283.6C1072.5,284.5 1073.5,282.0 1074.0,280.3C1074.4,278.6 1075.2,272.4 1075.6,270.2C1076.0,268.0 1076.9,263.9 1077.3,262.7C1077.7,261.4 1078.3,260.0 1078.6,260.2C1079.0,260.4 1079.5,263.0 1079.8,264.4C1080.2,265.7 1081.1,269.9 1081.5,271.1C1081.9,272.2 1082.7,273.8 1083.2,273.6C1083.6,273.4 1084.5,270.2 1084.8,269.4C1085.2,268.6 1085.7,266.8 1086.0,266.9C1086.4,267.0 1087.3,269.4 1087.7,270.2C1088.1,271.1 1088.9,273.5 1089.4,273.6C1089.8,273.7 1091.0,271.9 1091.5,271.1C1092.1,270.2 1093.2,267.7 1093.7,266.9C1094.2,266.0 1095.0,264.0 1095.4,264.4C1095.7,264.7 1096.2,268.6 1096.6,269.4C1096.9,270.2 1097.8,271.2 1098.2,271.1C1098.7,271.0 1099.5,269.5 1099.9,268.6C1100.3,267.6 1101.2,264.5 1101.6,263.5C1101.9,262.6 1102.5,260.4 1102.8,261.0C1103.0,261.6 1103.5,266.5 1103.8,268.6C1104.0,270.6 1104.6,276.6 1104.9,277.8C1105.3,278.9 1106.2,278.5 1106.6,277.8C1107.0,277.0 1107.9,273.4 1108.3,271.9C1108.7,270.4 1109.5,267.1 1110.0,266.0C1110.4,265.0 1111.2,263.6 1111.6,263.5C1112.1,263.4 1112.9,264.5 1113.3,265.2C1113.7,265.9 1114.5,267.9 1115.0,269.4C1115.5,270.9 1116.9,275.1 1117.5,276.9C1118.1,278.7 1119.4,282.3 1120.0,283.6C1120.6,285.0 1121.9,287.4 1122.5,287.8C1123.2,288.2 1124.4,287.8 1125.0,287.0C1125.7,286.1 1126.9,283.0 1127.6,281.1C1128.2,279.2 1129.4,274.1 1130.1,271.9C1130.7,269.7 1132.0,265.3 1132.6,263.5C1133.2,261.7 1134.5,258.7 1135.1,257.7C1135.7,256.6 1137.0,255.4 1137.6,255.2C1138.2,254.9 1139.2,254.9 1139.6,255.5C1140.1,256.1 1140.9,258.5 1141.3,260.2C1141.7,261.8 1142.4,266.7 1142.6,268.6C1142.9,270.4 1143.2,275.5 1143.5,275.3C1143.7,275.0 1144.4,269.2 1144.6,266.9C1144.8,264.6 1144.9,258.2 1145.1,256.8C1145.4,255.5 1146.0,254.5 1146.3,256.0C1146.6,257.5 1147.0,265.7 1147.3,268.6C1147.6,271.4 1148.1,278.0 1148.5,278.6C1148.8,279.2 1149.8,275.6 1150.2,273.6C1150.5,271.6 1151.1,264.8 1151.3,262.7C1151.6,260.6 1152.1,256.7 1152.3,256.8C1152.6,256.9 1153.2,261.6 1153.5,263.5C1153.9,265.4 1154.7,270.5 1155.2,271.9C1155.7,273.3 1156.8,274.7 1157.4,274.4C1157.9,274.1 1158.9,270.5 1159.4,269.4C1159.9,268.2 1160.9,265.5 1161.4,265.2C1161.9,264.9 1162.6,265.8 1163.1,266.9C1163.5,267.9 1164.3,271.7 1164.7,273.6C1165.2,275.5 1166.3,280.2 1166.9,282.0C1167.5,283.7 1168.8,287.0 1169.4,287.8C1170.1,288.7 1171.4,289.2 1171.9,288.7C1172.5,288.1 1173.6,285.1 1174.1,283.6C1174.6,282.2 1175.4,277.7 1175.8,276.9C1176.2,276.2 1176.7,276.5 1177.0,277.8C1177.2,279.0 1177.5,284.9 1177.8,287.0C1178.1,289.1 1179.1,293.4 1179.5,294.5C1179.9,295.7 1180.6,296.7 1181.2,296.2C1181.8,295.7 1183.5,291.8 1184.2,290.3C1184.9,288.9 1186.2,285.0 1186.8,284.5C1187.3,283.9 1188.0,285.0 1188.4,286.1C1188.8,287.3 1189.7,292.0 1190.1,293.7C1190.5,295.4 1191.4,299.3 1191.8,299.5C1192.2,299.7 1193.0,296.5 1193.5,295.4C1193.9,294.2 1194.7,291.1 1195.1,290.3C1195.5,289.6 1196.4,289.2 1196.8,289.5C1197.2,289.8 1198.0,292.0 1198.5,292.8C1198.9,293.7 1200.0,296.3 1200.5,296.2C1201.0,296.1 1202.2,292.8 1202.7,292.0C1203.1,291.2 1204.0,289.3 1204.3,289.5C1204.7,289.7 1205.2,292.7 1205.5,293.7C1205.9,294.7 1206.7,297.0 1207.2,297.4C1207.7,297.7 1208.8,296.9 1209.4,296.2C1209.9,295.5 1211.1,293.4 1211.5,292.0C1212.0,290.6 1212.8,287.2 1213.2,285.3C1213.6,283.4 1214.5,279.0 1214.9,276.9C1215.3,274.8 1216.1,270.6 1216.6,268.6C1217.0,266.5 1217.8,262.1 1218.2,260.2C1218.7,258.3 1219.6,254.8 1219.9,253.5C1220.3,252.1 1220.9,248.7 1221.1,249.3C1221.3,249.9 1221.5,256.2 1221.6,258.5C1221.7,260.8 1221.7,266.2 1221.9,267.7C1222.2,269.2 1223.1,270.1 1223.6,270.2C1224.1,270.4 1225.5,268.9 1226.1,268.9C1226.7,268.9 1228.0,269.6 1228.6,270.2C1229.3,270.8 1230.5,272.8 1231.1,273.6C1231.8,274.4 1233.0,276.6 1233.7,276.6C1234.3,276.6 1235.6,274.4 1236.2,273.6C1236.8,272.8 1237.8,270.7 1238.3,270.2C1238.9,269.7 1239.9,269.1 1240.4,269.4C1240.8,269.7 1241.6,272.0 1242.0,272.7C1242.4,273.5 1243.0,275.6 1243.4,275.3C1243.7,274.9 1244.7,271.1 1245.0,270.2C1245.4,269.4 1245.9,268.2 1246.2,268.6C1246.5,268.9 1247.1,271.7 1247.4,272.7C1247.7,273.8 1248.2,276.6 1248.7,276.9C1249.2,277.2 1250.6,275.3 1251.2,275.3C1251.9,275.3 1253.2,276.3 1253.8,276.9C1254.3,277.6 1255.3,279.5 1255.8,280.3C1256.2,281.0 1257.0,282.8 1257.4,282.8C1257.9,282.8 1258.7,281.3 1259.1,280.3C1259.5,279.2 1260.3,276.1 1260.8,274.4C1261.3,272.7 1262.4,268.7 1263.0,266.9C1263.5,265.1 1264.6,261.4 1265.1,260.2C1265.7,258.9 1266.7,257.1 1267.2,256.8C1267.6,256.5 1268.4,256.8 1268.8,257.7C1269.2,258.5 1270.0,262.1 1270.5,263.5C1271.0,265.0 1272.1,268.1 1272.5,269.4C1273.0,270.6 1273.8,273.1 1274.2,273.6C1274.6,274.1 1275.2,274.2 1275.5,273.6C1275.9,272.9 1276.6,269.5 1276.9,268.6C1277.2,267.6 1277.7,265.7 1278.0,266.0C1278.3,266.4 1278.9,270.1 1279.2,271.1C1279.5,272.0 1280.1,273.8 1280.6,273.6C1281.0,273.4 1282.1,270.3 1282.6,269.4C1283.0,268.4 1283.6,265.7 1283.9,266.0C1284.2,266.4 1284.9,270.1 1285.2,271.9C1285.6,273.7 1286.5,278.9 1286.9,280.3C1287.3,281.6 1288.2,283.0 1288.6,282.8C1288.9,282.6 1289.5,280.4 1289.8,278.6C1290.0,276.8 1290.4,270.4 1290.6,268.6C1290.8,266.7 1291.2,263.3 1291.4,263.5C1291.7,263.7 1292.3,268.3 1292.6,270.2C1293.0,272.1 1293.9,277.1 1294.3,278.6C1294.7,280.1 1295.5,282.0 1296.0,282.0C1296.4,282.0 1297.2,280.1 1297.6,278.6C1298.1,277.1 1298.9,271.7 1299.3,270.2C1299.7,268.8 1300.3,266.5 1300.7,266.9C1301.0,267.3 1301.6,271.8 1302.0,273.6C1302.4,275.4 1303.2,280.0 1303.7,281.1C1304.1,282.3 1304.9,283.1 1305.3,282.8C1305.8,282.5 1306.6,280.4 1307.0,278.6C1307.4,276.8 1308.3,271.2 1308.7,268.6C1309.1,265.9 1309.9,259.7 1310.4,257.7C1310.8,255.7 1311.6,253.2 1312.0,252.6C1312.5,252.1 1313.3,252.3 1313.7,253.5C1314.1,254.6 1315.0,258.9 1315.4,261.9C1315.8,264.8 1316.6,273.2 1317.1,276.9C1317.5,280.7 1318.3,289.3 1318.7,292.0C1319.2,294.7 1320.0,297.9 1320.4,298.7C1320.8,299.5 1321.6,299.2 1322.1,298.7C1322.6,298.2 1323.5,295.9 1324.1,294.5C1324.7,293.2 1326.0,289.4 1326.6,287.8C1327.2,286.2 1328.6,283.1 1329.1,282.0C1329.7,280.8 1330.7,279.1 1331.1,278.6C1331.6,278.1 1332.4,277.6 1332.8,278.3C1333.2,278.9 1333.8,282.3 1334.2,283.6C1334.5,284.9 1335.4,288.5 1335.8,288.7C1336.2,288.8 1337.0,285.3 1337.5,284.5C1338.0,283.6 1339.4,282.5 1340.0,282.0C1340.6,281.4 1342.0,280.7 1342.5,280.3C1343.1,279.9 1344.1,278.0 1344.5,278.6C1345.0,279.2 1345.5,283.4 1345.9,285.3C1346.3,287.2 1347.1,292.2 1347.6,293.7C1348.0,295.1 1348.8,296.9 1349.2,297.0C1349.6,297.1 1350.5,295.8 1350.9,294.5C1351.3,293.3 1352.2,289.2 1352.6,287.0C1353.0,284.8 1353.7,279.4 1354.3,276.9C1354.8,274.4 1356.1,269.0 1356.8,266.9C1357.4,264.8 1358.7,261.5 1359.3,260.2C1359.9,258.8 1361.2,256.7 1361.8,256.0C1362.4,255.3 1363.5,254.1 1364.0,254.3C1364.5,254.5 1365.3,256.1 1365.6,257.7C1366.0,259.2 1366.5,264.5 1366.8,266.9C1367.1,269.3 1367.7,274.9 1368.0,276.9C1368.3,278.9 1368.8,281.7 1369.3,282.8C1369.8,283.8 1371.2,285.1 1371.8,285.3C1372.5,285.5 1373.7,284.9 1374.4,284.5C1375.0,284.0 1376.3,282.5 1376.9,282.0C1377.5,281.4 1378.5,280.1 1379.0,280.3C1379.6,280.5 1380.6,282.8 1381.1,283.6C1381.5,284.5 1382.3,287.0 1382.7,287.0C1383.1,287.0 1384.0,285.1 1384.4,283.6C1384.8,282.2 1385.7,277.2 1386.1,275.3C1386.5,273.3 1387.3,269.0 1387.8,267.7C1388.2,266.5 1389.1,264.9 1389.4,265.2C1389.8,265.5 1390.4,268.9 1390.8,270.2C1391.1,271.6 1392.0,275.5 1392.4,276.1C1392.9,276.7 1393.6,276.0 1394.1,275.3C1394.6,274.5 1396.2,270.9 1396.5,270.2"/>
<path class="cv" d="M828.2,463.7C829.2,463.5 834.1,462.7 836.1,462.2C838.0,461.7 841.7,460.4 843.6,459.9C845.5,459.4 849.3,458.5 851.1,458.1C853.0,457.7 857.0,457.0 858.7,456.6C860.4,456.3 863.4,455.7 864.7,455.4C866.0,455.1 868.1,454.6 869.2,454.2C870.4,453.8 872.6,452.8 873.8,452.1C874.9,451.4 877.2,449.5 878.3,448.6C879.4,447.7 881.8,445.7 882.8,444.9C883.9,444.0 885.7,442.7 886.6,442.1C887.4,441.6 888.9,441.0 889.6,440.8C890.4,440.6 891.8,440.6 892.6,440.3C893.5,440.1 895.2,439.2 896.4,438.8C897.6,438.4 900.9,437.5 902.4,437.0C903.9,436.5 907.2,435.5 908.5,435.1C909.7,434.6 911.4,433.7 912.2,433.1C913.1,432.5 914.5,431.3 915.3,430.5C916.0,429.7 917.5,427.6 918.3,426.8C919.0,425.9 920.5,424.5 921.3,424.0C922.0,423.6 923.5,423.4 924.3,423.4C925.1,423.4 926.6,424.2 927.3,424.0C928.1,423.9 929.6,422.7 930.3,421.9C931.1,421.1 932.7,418.7 933.4,417.7C934.0,416.7 935.1,414.7 935.6,413.9C936.1,413.2 936.9,412.0 937.4,412.0C938.0,411.9 939.3,413.1 940.1,413.5C941.0,413.9 943.3,414.8 944.1,415.0C944.8,415.2 945.5,415.3 945.9,414.9C946.4,414.5 947.3,412.5 948.0,411.9C948.6,411.2 950.4,410.3 951.3,409.9C952.2,409.4 954.4,408.5 955.5,408.2C956.5,407.9 958.5,407.8 959.7,407.7C960.8,407.6 963.4,407.7 964.7,407.7C966.0,407.7 968.6,407.8 969.7,407.7C970.9,407.6 973.0,407.1 973.9,406.9C974.9,406.6 976.4,406.0 977.3,406.0C978.1,406.1 979.8,406.9 980.6,407.2C981.5,407.5 983.1,408.1 984.0,408.2C984.8,408.3 986.4,408.4 987.3,408.2C988.3,408.0 990.6,407.3 991.5,406.9C992.4,406.4 994.0,405.0 994.9,404.3C995.7,403.7 997.5,402.1 998.2,401.5C998.9,400.9 1000.3,399.8 1000.7,399.8C1001.2,399.9 1001.7,400.7 1001.9,401.8C1002.1,402.9 1002.2,407.2 1002.4,408.5C1002.6,409.9 1002.9,412.6 1003.2,412.7C1003.5,412.8 1004.5,410.2 1004.9,409.4C1005.3,408.5 1006.2,406.6 1006.6,406.0C1007.0,405.4 1007.8,404.9 1008.3,404.8C1008.7,404.8 1009.6,406.0 1009.9,405.5C1010.3,405.0 1011.0,401.8 1011.3,401.0C1011.6,400.2 1012.1,398.8 1012.4,398.8C1012.7,398.8 1013.3,400.3 1013.6,401.0C1013.9,401.7 1014.5,403.8 1015.0,404.3C1015.4,404.9 1016.7,405.6 1017.5,405.5C1018.2,405.4 1019.9,404.2 1020.8,403.5C1021.8,402.8 1024.0,400.8 1025.0,400.2C1026.1,399.5 1028.1,398.8 1029.2,398.5C1030.2,398.2 1032.4,397.6 1033.4,397.6C1034.3,397.7 1036.0,398.4 1036.7,398.8C1037.5,399.2 1038.7,400.4 1039.2,401.0C1039.8,401.6 1040.6,402.6 1040.9,403.5C1041.2,404.4 1041.2,408.5 1041.4,408.5C1041.6,408.5 1042.2,404.7 1042.6,403.5C1042.9,402.3 1043.8,400.1 1044.3,399.3C1044.7,398.5 1045.9,397.4 1046.4,397.3C1047.0,397.2 1048.0,397.9 1048.5,398.5C1048.9,399.0 1049.7,401.2 1050.1,401.8C1050.5,402.5 1051.3,403.6 1051.8,403.5C1052.3,403.4 1053.3,401.5 1053.8,401.0C1054.3,400.5 1055.4,399.3 1056.0,399.3C1056.6,399.3 1058.0,400.4 1058.5,401.0C1059.0,401.6 1059.5,403.7 1060.1,404.4C1060.6,405.0 1061.9,406.1 1062.6,406.0C1063.2,405.9 1064.3,404.6 1065.1,403.5C1065.8,402.5 1067.6,399.1 1068.4,397.7C1069.3,396.2 1070.9,393.3 1071.8,391.8C1072.6,390.3 1074.4,386.9 1075.1,385.9C1075.9,385.0 1077.2,383.0 1077.6,383.9C1078.1,384.9 1078.3,390.8 1078.5,393.5C1078.6,396.1 1078.7,403.0 1078.8,405.2C1078.9,407.4 1079.0,411.0 1079.3,411.1C1079.6,411.2 1080.6,407.0 1081.0,406.0C1081.4,405.1 1082.1,403.6 1082.7,403.5C1083.2,403.4 1084.5,404.8 1085.2,405.2C1085.8,405.6 1087.1,406.5 1087.7,406.5C1088.3,406.5 1089.5,405.5 1090.2,405.2C1090.9,404.9 1092.8,403.9 1093.6,403.9C1094.3,403.9 1095.5,404.8 1096.1,405.2C1096.6,405.6 1097.7,407.3 1098.2,407.2C1098.8,407.2 1099.7,405.4 1100.3,404.9C1100.8,404.4 1102.2,403.0 1102.8,403.2C1103.3,403.3 1104.0,405.3 1104.4,406.0C1104.9,406.8 1105.6,408.9 1106.1,408.9C1106.6,408.9 1108.0,406.8 1108.6,406.0C1109.3,405.3 1110.5,403.3 1111.1,402.7C1111.8,402.1 1113.0,401.0 1113.7,401.0C1114.3,401.0 1115.5,402.1 1116.2,402.7C1116.8,403.3 1117.9,405.3 1118.7,406.0C1119.4,406.8 1121.2,408.4 1122.0,408.9C1122.9,409.4 1124.5,410.1 1125.4,410.2C1126.2,410.4 1127.9,410.2 1128.7,409.9C1129.6,409.6 1131.2,408.4 1132.1,407.7C1132.9,407.0 1134.6,405.3 1135.4,404.4C1136.3,403.4 1138.0,401.0 1138.8,400.2C1139.5,399.4 1140.7,398.1 1141.3,398.2C1141.9,398.3 1143.0,399.8 1143.5,401.0C1143.9,402.2 1144.7,406.5 1145.1,407.7C1145.6,409.0 1146.4,410.7 1146.8,411.1C1147.3,411.4 1148.3,410.9 1148.8,410.2C1149.4,409.6 1150.7,407.1 1151.3,406.0C1152.0,405.0 1153.2,402.5 1153.9,401.9C1154.5,401.2 1155.7,400.6 1156.4,400.7C1157.0,400.8 1158.4,401.9 1158.9,402.7C1159.4,403.5 1160.1,405.6 1160.6,406.9C1161.0,408.1 1161.8,411.7 1162.2,412.7C1162.7,413.8 1163.7,414.8 1164.2,415.3C1164.8,415.7 1165.9,416.3 1166.4,416.1C1166.9,415.9 1167.7,414.9 1168.1,413.6C1168.5,412.2 1169.3,407.9 1169.8,405.2C1170.2,402.5 1171.0,394.5 1171.4,391.8C1171.9,389.1 1172.7,384.9 1173.1,383.4C1173.5,381.9 1174.2,378.7 1174.5,379.7C1174.7,380.8 1175.1,388.6 1175.3,391.8C1175.4,395.0 1175.4,404.4 1175.6,405.2C1175.8,406.0 1176.6,400.4 1177.0,398.5C1177.3,396.6 1178.3,391.3 1178.6,390.1C1179.0,389.0 1179.5,388.5 1179.8,389.3C1180.2,390.1 1181.1,394.8 1181.5,396.8C1181.9,398.8 1182.7,404.0 1183.2,405.2C1183.6,406.4 1184.4,406.6 1184.8,406.0C1185.3,405.5 1186.1,402.1 1186.5,401.0C1186.9,400.0 1187.8,397.9 1188.2,397.7C1188.6,397.5 1189.4,398.8 1189.9,399.3C1190.3,399.9 1191.1,401.9 1191.5,401.9C1192.0,401.9 1192.8,399.8 1193.2,399.3C1193.6,398.9 1194.4,398.3 1194.9,398.5C1195.4,398.7 1196.8,400.1 1197.4,401.0C1198.0,402.0 1199.0,405.1 1199.4,406.0C1199.9,406.9 1200.6,408.2 1201.1,408.2C1201.6,408.2 1202.7,406.6 1203.3,406.0C1203.9,405.5 1205.2,404.0 1205.8,403.9C1206.4,403.8 1207.7,404.7 1208.3,405.2C1208.9,405.7 1210.0,407.3 1210.5,407.7C1211.0,408.1 1211.7,408.9 1212.1,408.6C1212.6,408.2 1213.7,405.8 1214.2,405.2C1214.7,404.6 1215.6,403.5 1216.2,403.9C1216.7,404.2 1217.8,406.7 1218.3,407.7C1218.9,408.7 1220.0,411.1 1220.5,411.9C1221.0,412.7 1222.0,414.1 1222.5,413.9C1223.0,413.7 1224.0,411.6 1224.5,410.2C1225.1,408.8 1226.1,404.6 1226.7,402.7C1227.3,400.8 1228.6,396.8 1229.2,395.2C1229.9,393.5 1231.1,390.4 1231.7,389.3C1232.4,388.1 1233.6,386.6 1234.3,385.9C1234.9,385.3 1236.1,384.5 1236.8,384.3C1237.4,384.0 1239.1,383.2 1239.6,383.9C1240.1,384.7 1240.6,388.3 1241.0,390.1C1241.3,391.9 1242.2,396.4 1242.6,398.5C1243.1,400.6 1244.2,405.0 1244.6,406.9C1245.1,408.8 1245.9,412.4 1246.3,413.6C1246.7,414.7 1247.3,416.5 1247.7,416.1C1248.0,415.7 1248.7,412.2 1249.0,410.2C1249.3,408.2 1249.9,402.1 1250.2,400.2C1250.5,398.3 1251.0,395.0 1251.3,395.2C1251.7,395.3 1252.3,399.3 1252.7,401.0C1253.1,402.7 1253.9,407.0 1254.4,408.6C1254.8,410.1 1255.6,413.1 1256.0,413.6C1256.4,414.1 1257.2,413.6 1257.7,412.7C1258.2,411.9 1259.2,408.3 1259.7,406.9C1260.2,405.4 1261.3,402.0 1261.9,401.0C1262.4,400.1 1263.5,399.3 1264.1,399.3C1264.6,399.3 1265.5,400.5 1266.1,401.0C1266.6,401.5 1268.0,403.0 1268.6,403.2C1269.2,403.4 1270.5,403.1 1271.1,402.7C1271.7,402.3 1273.1,400.4 1273.6,400.2C1274.1,400.0 1274.8,400.4 1275.3,401.0C1275.8,401.6 1276.9,404.2 1277.5,405.2C1278.0,406.2 1279.3,408.3 1279.8,408.9C1280.4,409.5 1281.5,410.6 1282.0,409.9C1282.4,409.2 1283.1,405.8 1283.5,403.5C1283.8,401.3 1284.7,394.3 1285.1,391.8C1285.5,389.3 1286.3,385.1 1286.8,383.4C1287.3,381.7 1288.3,379.0 1288.8,378.1C1289.3,377.1 1290.4,376.0 1291.0,375.9C1291.5,375.8 1292.6,376.3 1293.2,377.1C1293.7,377.8 1294.7,380.3 1295.2,381.8C1295.6,383.2 1296.4,386.7 1296.9,388.5C1297.3,390.2 1298.1,394.6 1298.5,396.0C1298.9,397.4 1299.5,399.5 1299.9,399.8C1300.2,400.2 1301.1,399.0 1301.5,398.5C1302.0,398.0 1302.8,396.4 1303.2,396.0C1303.6,395.5 1304.5,394.7 1304.9,394.8C1305.3,394.9 1306.1,396.1 1306.6,396.8C1307.0,397.6 1307.8,400.1 1308.2,401.0C1308.7,402.0 1309.5,403.9 1309.9,404.4C1310.4,404.8 1311.4,405.0 1311.9,404.9C1312.4,404.8 1313.4,403.5 1313.9,403.5C1314.5,403.6 1315.6,405.2 1316.1,405.2C1316.7,405.2 1317.8,404.1 1318.3,403.9C1318.8,403.7 1319.6,403.1 1320.0,403.5C1320.3,403.9 1320.8,405.9 1321.1,406.9C1321.4,407.8 1321.9,410.8 1322.3,411.1C1322.7,411.3 1324.0,409.2 1324.5,408.9C1325.0,408.5 1325.7,408.0 1326.2,408.2C1326.6,408.4 1327.8,409.6 1328.3,410.2C1328.9,410.9 1329.8,413.1 1330.4,413.2C1330.9,413.3 1332.2,411.5 1332.9,411.1C1333.5,410.6 1334.8,409.4 1335.4,409.4C1335.9,409.4 1336.9,410.4 1337.4,411.1C1337.9,411.7 1339.0,413.7 1339.6,414.4C1340.2,415.1 1341.4,416.2 1342.1,416.6C1342.7,416.9 1344.0,417.2 1344.6,417.3C1345.2,417.3 1346.5,416.7 1347.1,416.9C1347.7,417.2 1349.0,419.3 1349.6,419.4C1350.2,419.6 1351.3,418.7 1351.8,418.3C1352.3,417.8 1353.3,416.5 1353.8,416.1C1354.3,415.7 1355.4,414.9 1355.8,415.3C1356.2,415.6 1356.8,417.7 1357.2,418.6C1357.5,419.5 1358.1,422.6 1358.5,422.8C1358.9,423.0 1359.7,421.3 1360.2,420.3C1360.6,419.2 1361.4,415.7 1361.8,414.4C1362.3,413.2 1363.1,410.8 1363.5,410.2C1363.9,409.7 1364.8,409.4 1365.2,409.9C1365.6,410.4 1366.4,413.4 1366.9,414.4C1367.3,415.5 1368.1,418.1 1368.5,418.3C1369.0,418.5 1369.8,417.0 1370.2,416.1C1370.6,415.2 1371.5,412.0 1371.9,411.1C1372.3,410.1 1373.2,408.3 1373.6,408.2C1373.9,408.1 1374.4,409.2 1374.7,410.2C1375.0,411.2 1375.6,414.9 1375.9,416.1C1376.3,417.2 1377.1,419.2 1377.6,419.4C1378.1,419.7 1379.2,418.8 1379.8,418.3C1380.4,417.7 1381.6,415.9 1382.3,415.3C1382.9,414.6 1384.2,413.2 1384.8,412.7C1385.4,412.3 1386.4,412.0 1387.0,411.9C1387.5,411.8 1388.5,412.4 1389.0,411.9C1389.4,411.4 1390.2,408.8 1390.7,407.7C1391.1,406.7 1391.9,404.3 1392.3,403.5C1392.8,402.8 1393.8,401.8 1394.3,401.5C1394.9,401.2 1396.2,401.1 1396.5,401.0"/>
<path class="cv" d="M828.2,463.7C829.6,463.8 836.6,464.2 839.1,464.2C841.6,464.2 846.1,463.9 848.1,463.7C850.2,463.5 854.0,463.0 855.7,462.7C857.4,462.3 860.0,461.3 861.7,460.7C863.4,460.1 867.4,458.8 869.2,458.1C871.1,457.5 874.9,456.0 876.8,455.4C878.7,454.8 882.4,453.9 884.3,453.6C886.2,453.3 890.0,452.9 891.9,452.7C893.8,452.5 897.9,452.0 899.4,451.8C900.9,451.6 903.0,451.2 903.9,450.9C904.8,450.6 906.1,449.9 906.7,449.4C907.2,448.9 907.9,447.1 908.5,446.7C909.1,446.2 910.3,445.8 911.5,445.6C912.6,445.4 916.0,445.3 917.5,445.3C919.0,445.3 922.0,445.6 923.5,445.6C925.1,445.6 928.3,445.4 929.6,445.2C930.9,444.9 933.1,444.2 934.1,443.7C935.1,443.1 937.0,441.8 937.9,441.1C938.7,440.4 940.1,438.5 940.9,438.1C941.7,437.6 943.6,437.0 944.1,437.3C944.6,437.6 944.6,439.3 944.9,440.4C945.3,441.4 946.2,444.5 946.6,445.4C947.0,446.2 947.8,447.1 948.3,447.1C948.8,447.1 950.0,446.0 950.5,445.4C950.9,444.7 951.7,442.8 952.1,442.0C952.6,441.3 953.5,439.7 953.8,439.5C954.2,439.3 954.7,439.7 955.0,440.4C955.3,441.0 955.8,443.9 956.3,444.5C956.8,445.2 958.1,445.5 958.8,445.4C959.6,445.3 961.2,444.3 962.2,443.7C963.1,443.1 965.3,441.1 966.4,440.4C967.4,439.6 969.6,438.3 970.6,437.8C971.5,437.4 973.1,436.8 973.9,436.7C974.8,436.6 976.4,436.6 977.3,437.0C978.1,437.4 979.9,439.0 980.6,439.5C981.3,440.0 982.5,441.2 983.1,441.2C983.8,441.2 984.9,439.9 985.6,439.5C986.4,439.1 988.2,437.9 989.0,437.8C989.8,437.7 991.5,438.4 992.3,438.7C993.2,439.0 995.0,440.4 995.7,440.4C996.4,440.3 997.6,438.5 998.2,438.3C998.8,438.2 1000.2,438.7 1000.7,439.0C1001.2,439.4 1001.9,440.4 1002.4,441.2C1002.9,442.0 1004.0,444.5 1004.6,445.4C1005.1,446.2 1006.0,447.8 1006.6,447.9C1007.1,448.0 1008.5,446.9 1009.1,446.2C1009.7,445.5 1010.9,443.2 1011.6,442.0C1012.3,440.9 1014.2,437.8 1015.0,437.0C1015.7,436.2 1016.9,435.6 1017.5,435.7C1018.1,435.8 1019.1,437.0 1019.6,437.8C1020.2,438.6 1021.1,441.3 1021.7,442.0C1022.2,442.8 1023.4,443.7 1024.2,443.7C1024.9,443.7 1026.6,442.6 1027.5,442.0C1028.5,441.5 1030.7,440.0 1031.7,439.5C1032.8,439.1 1035.0,438.4 1035.9,438.3C1036.8,438.2 1038.4,438.5 1039.2,438.7C1040.1,438.9 1041.7,439.8 1042.6,440.0C1043.5,440.2 1045.6,440.4 1046.8,440.4C1047.9,440.3 1050.7,439.6 1051.8,439.5C1053.0,439.5 1055.0,439.7 1056.0,440.0C1057.0,440.3 1059.1,441.7 1060.0,442.0C1060.9,442.3 1062.6,442.7 1063.4,442.4C1064.2,442.1 1065.9,440.2 1066.8,439.5C1067.6,438.9 1069.4,437.4 1070.1,437.0C1070.8,436.7 1072.0,436.4 1072.6,436.7C1073.2,437.0 1074.4,438.8 1075.1,439.5C1075.9,440.3 1077.6,442.3 1078.5,442.9C1079.3,443.5 1080.9,444.3 1081.8,444.6C1082.8,444.8 1085.0,445.3 1086.0,445.1C1087.1,444.9 1089.2,443.7 1090.2,442.9C1091.2,442.1 1093.4,439.6 1094.4,438.7C1095.3,437.8 1097.0,435.9 1097.7,435.4C1098.5,434.8 1099.5,434.5 1100.3,434.5C1101.0,434.5 1102.7,435.3 1103.6,435.4C1104.5,435.4 1106.8,435.0 1107.8,435.0C1108.7,435.0 1110.2,435.1 1111.1,435.4C1112.1,435.6 1114.3,437.0 1115.3,437.4C1116.4,437.7 1118.5,437.9 1119.5,437.9C1120.6,437.8 1122.6,437.0 1123.7,436.7C1124.9,436.3 1127.5,435.4 1128.7,435.0C1130.0,434.7 1132.6,434.1 1133.8,434.0C1134.9,433.9 1137.0,434.6 1137.9,434.5C1138.9,434.4 1140.6,433.7 1141.3,433.3C1142.0,433.0 1143.3,432.1 1143.8,432.0C1144.3,431.9 1145.1,432.2 1145.5,432.8C1145.9,433.5 1146.7,436.0 1147.2,437.0C1147.6,438.1 1148.6,440.4 1149.2,441.2C1149.7,442.1 1150.8,443.2 1151.3,443.7C1151.9,444.2 1153.1,445.1 1153.9,445.1C1154.6,445.1 1156.4,444.3 1157.2,443.7C1158.0,443.1 1159.7,441.2 1160.6,440.4C1161.4,439.6 1163.1,437.8 1163.9,437.4C1164.7,436.9 1166.5,436.8 1167.3,436.7C1168.0,436.5 1169.2,435.9 1169.8,436.2C1170.4,436.4 1171.4,438.1 1171.9,438.7C1172.5,439.3 1173.5,441.1 1174.0,441.2C1174.4,441.3 1175.1,440.2 1175.6,439.5C1176.2,438.9 1177.5,436.9 1178.1,436.2C1178.8,435.5 1180.0,434.1 1180.7,433.7C1181.3,433.3 1182.5,432.7 1183.2,432.8C1183.8,432.9 1185.1,433.7 1185.7,434.5C1186.3,435.4 1187.6,438.6 1188.2,439.5C1188.8,440.5 1190.1,442.2 1190.7,442.4C1191.3,442.6 1192.6,441.8 1193.2,441.2C1193.8,440.6 1195.1,438.6 1195.7,437.9C1196.4,437.1 1197.7,435.9 1198.2,435.4C1198.8,434.8 1199.5,433.7 1199.9,433.7C1200.3,433.7 1201.1,434.7 1201.6,435.4C1202.1,436.0 1203.4,438.4 1204.1,438.7C1204.8,439.0 1206.7,438.0 1207.5,437.9C1208.2,437.7 1209.4,437.2 1210.0,437.4C1210.6,437.6 1211.6,439.0 1212.1,439.5C1212.7,440.1 1213.6,441.8 1214.2,441.7C1214.7,441.6 1216.0,439.5 1216.7,438.7C1217.3,437.9 1218.6,436.0 1219.2,435.4C1219.8,434.7 1221.1,434.1 1221.7,433.7C1222.3,433.3 1223.6,432.3 1224.2,432.0C1224.8,431.7 1225.8,430.5 1226.2,431.2C1226.6,431.8 1227.2,435.9 1227.6,437.0C1227.9,438.2 1228.6,440.5 1228.9,440.4C1229.2,440.3 1229.7,436.5 1230.1,436.2C1230.4,435.9 1231.3,438.0 1231.7,437.9C1232.2,437.8 1233.0,435.5 1233.4,435.4C1233.8,435.2 1234.7,437.0 1235.1,436.7C1235.5,436.4 1236.3,433.4 1236.8,432.8C1237.2,432.3 1238.0,431.6 1238.4,432.0C1238.9,432.4 1239.6,435.0 1240.1,436.2C1240.6,437.3 1241.8,440.4 1242.3,441.2C1242.8,442.1 1243.7,443.0 1244.3,442.9C1244.9,442.8 1246.2,441.2 1246.8,440.4C1247.4,439.5 1248.7,436.9 1249.3,436.2C1250.0,435.5 1251.3,434.9 1251.8,435.0C1252.4,435.1 1253.5,437.0 1254.0,437.0C1254.5,437.1 1255.6,435.0 1256.0,435.4C1256.5,435.7 1257.3,438.6 1257.7,439.5C1258.1,440.5 1259.1,442.6 1259.4,442.9C1259.7,443.2 1259.7,442.6 1260.0,442.1C1260.3,441.5 1261.3,439.7 1261.7,438.7C1262.1,437.7 1263.0,434.8 1263.4,433.7C1263.7,432.5 1264.4,430.0 1264.7,429.5C1265.0,429.0 1265.6,428.8 1265.9,429.5C1266.2,430.2 1266.7,433.7 1267.0,435.4C1267.3,437.0 1268.0,442.2 1268.4,442.9C1268.7,443.6 1269.4,441.7 1269.7,441.2C1270.0,440.7 1270.5,439.0 1270.9,438.7C1271.2,438.4 1272.1,438.6 1272.6,438.7C1273.0,438.8 1273.7,439.2 1274.2,439.5C1274.8,439.9 1276.1,441.4 1276.8,441.7C1277.4,442.0 1278.6,441.9 1279.3,441.7C1279.9,441.5 1281.2,441.0 1281.8,440.4C1282.3,439.8 1283.3,437.8 1283.8,437.0C1284.2,436.3 1285.0,434.9 1285.5,434.5C1285.9,434.1 1286.9,433.7 1287.6,433.7C1288.3,433.6 1290.2,433.9 1291.0,434.0C1291.8,434.1 1293.5,434.3 1294.3,434.5C1295.2,434.7 1297.0,435.1 1297.7,435.4C1298.4,435.6 1299.6,436.2 1300.2,436.7C1300.8,437.2 1302.1,439.0 1302.7,439.5C1303.3,440.0 1304.4,440.8 1304.9,440.7C1305.4,440.6 1306.4,439.0 1306.9,438.7C1307.4,438.4 1308.2,438.2 1308.6,438.4C1309.0,438.6 1309.8,440.2 1310.3,440.4C1310.7,440.5 1311.7,439.9 1312.3,439.5C1312.8,439.2 1313.9,438.0 1314.4,437.9C1315.0,437.8 1316.1,438.5 1316.6,438.7C1317.1,438.9 1318.1,439.6 1318.6,439.5C1319.1,439.4 1320.1,438.3 1320.6,437.9C1321.2,437.4 1322.3,436.3 1322.8,436.2C1323.3,436.0 1324.1,436.4 1324.5,436.7C1324.9,437.0 1325.7,438.2 1326.2,438.7C1326.6,439.2 1327.8,440.3 1328.3,440.4C1328.9,440.5 1329.8,439.9 1330.4,439.5C1330.9,439.2 1332.2,438.3 1332.9,437.9C1333.5,437.4 1334.7,436.7 1335.4,436.2C1336.0,435.7 1337.3,434.4 1337.9,434.0C1338.5,433.6 1339.8,432.8 1340.4,432.8C1341.0,432.8 1341.9,433.3 1342.4,434.0C1342.9,434.7 1344.1,437.6 1344.6,438.7C1345.1,439.8 1345.8,441.9 1346.3,442.9C1346.7,443.8 1347.5,446.6 1347.9,446.2C1348.4,445.9 1349.1,442.2 1349.6,440.4C1350.1,438.6 1351.3,433.7 1351.8,432.0C1352.3,430.3 1353.1,427.6 1353.5,427.0C1353.8,426.3 1354.5,426.0 1354.8,426.6C1355.1,427.3 1355.5,430.3 1355.8,432.0C1356.1,433.7 1356.8,439.4 1357.2,440.4C1357.5,441.3 1358.5,439.9 1358.8,439.5C1359.2,439.2 1359.9,437.9 1360.2,437.9C1360.5,437.9 1361.0,439.1 1361.3,439.5C1361.6,440.0 1362.1,441.7 1362.5,441.7C1362.9,441.7 1364.1,440.0 1364.7,439.5C1365.3,439.1 1366.6,438.3 1367.2,438.4C1367.8,438.5 1369.1,439.9 1369.7,440.4C1370.3,440.9 1371.6,442.0 1372.2,442.4C1372.9,442.8 1374.1,443.4 1374.7,443.4C1375.4,443.4 1376.6,442.7 1377.3,442.4C1377.9,442.1 1379.1,441.1 1379.8,440.7C1380.4,440.4 1381.7,439.6 1382.3,439.5C1382.8,439.5 1383.8,439.9 1384.3,440.4C1384.8,440.9 1385.9,442.8 1386.5,443.7C1387.0,444.6 1388.1,446.8 1388.6,447.4C1389.2,448.0 1390.4,448.9 1391.0,448.8C1391.6,448.6 1392.7,447.1 1393.2,446.2C1393.6,445.4 1394.4,443.1 1394.8,442.1C1395.3,441.0 1396.3,438.4 1396.5,437.9"/>
</svg></body></html>
